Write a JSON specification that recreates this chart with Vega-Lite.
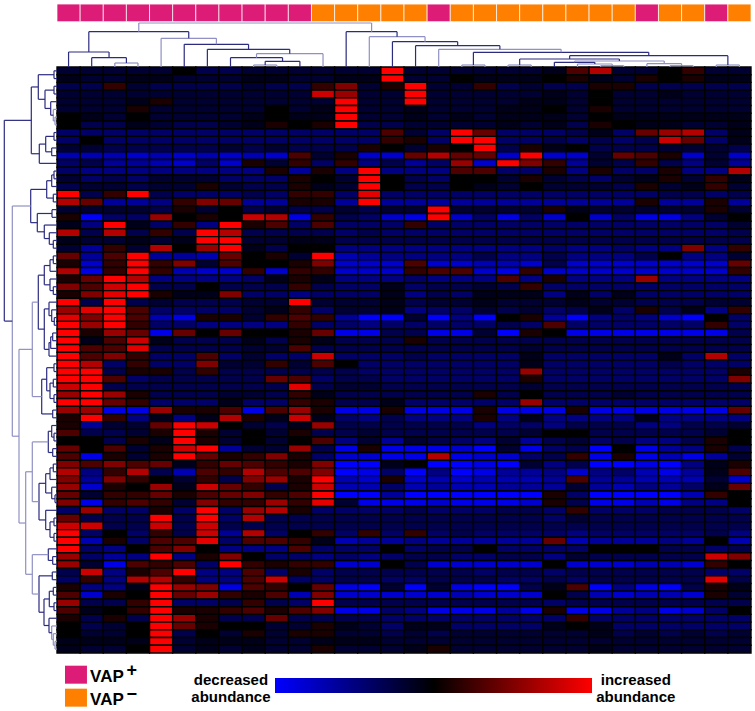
{"$schema":"https://vega.github.io/schema/vega-lite/v6.json","width":755,"height":711,"padding":0,"autosize":{"type":"none"},"background":"white","config":{"view":{"stroke":null}},
"datasets":{
"cells":[
{"r":1,"c":1,"v":-2},{"r":1,"c":2,"v":-2},{"r":1,"c":3,"v":-2},{"r":1,"c":4,"v":-2},{"r":1,"c":5,"v":-2},{"r":1,"c":6,"v":0},{"r":1,"c":7,"v":-3},{"r":1,"c":8,"v":-3},{"r":1,"c":9,"v":-2},{"r":1,"c":10,"v":-2},{"r":1,"c":11,"v":-2},{"r":1,"c":12,"v":-2},{"r":1,"c":13,"v":-2},{"r":1,"c":14,"v":-2},{"r":1,"c":15,"v":10},{"r":1,"c":16,"v":-2},{"r":1,"c":17,"v":-2},{"r":1,"c":18,"v":-2},{"r":1,"c":19,"v":-2},{"r":1,"c":20,"v":-2},{"r":1,"c":21,"v":-2},{"r":1,"c":22,"v":-1},{"r":1,"c":23,"v":3},{"r":1,"c":24,"v":7},{"r":1,"c":25,"v":-2},{"r":1,"c":26,"v":-2},{"r":1,"c":27,"v":0},{"r":1,"c":28,"v":2},{"r":1,"c":29,"v":-2},{"r":1,"c":30,"v":-2},
{"r":2,"c":1,"v":-1},{"r":2,"c":2,"v":-2},{"r":2,"c":3,"v":-2},{"r":2,"c":4,"v":-1},{"r":2,"c":5,"v":-1},{"r":2,"c":6,"v":-2},{"r":2,"c":7,"v":-2},{"r":2,"c":8,"v":-2},{"r":2,"c":9,"v":-1},{"r":2,"c":10,"v":-1},{"r":2,"c":11,"v":-2},{"r":2,"c":12,"v":-2},{"r":2,"c":13,"v":-1},{"r":2,"c":14,"v":-1},{"r":2,"c":15,"v":10},{"r":2,"c":16,"v":-2},{"r":2,"c":17,"v":-2},{"r":2,"c":18,"v":0},{"r":2,"c":19,"v":-1},{"r":2,"c":20,"v":-1},{"r":2,"c":21,"v":-1},{"r":2,"c":22,"v":0},{"r":2,"c":23,"v":1},{"r":2,"c":24,"v":-1},{"r":2,"c":25,"v":-2},{"r":2,"c":26,"v":1},{"r":2,"c":27,"v":0},{"r":2,"c":28,"v":1},{"r":2,"c":29,"v":-1},{"r":2,"c":30,"v":-1},
{"r":3,"c":1,"v":-3},{"r":3,"c":2,"v":-3},{"r":3,"c":3,"v":2},{"r":3,"c":4,"v":-2},{"r":3,"c":5,"v":-3},{"r":3,"c":6,"v":-3},{"r":3,"c":7,"v":-3},{"r":3,"c":8,"v":-3},{"r":3,"c":9,"v":-2},{"r":3,"c":10,"v":-3},{"r":3,"c":11,"v":-3},{"r":3,"c":12,"v":2},{"r":3,"c":13,"v":5},{"r":3,"c":14,"v":-2},{"r":3,"c":15,"v":1},{"r":3,"c":16,"v":10},{"r":3,"c":17,"v":-2},{"r":3,"c":18,"v":-2},{"r":3,"c":19,"v":2},{"r":3,"c":20,"v":-3},{"r":3,"c":21,"v":-2},{"r":3,"c":22,"v":-3},{"r":3,"c":23,"v":-3},{"r":3,"c":24,"v":1},{"r":3,"c":25,"v":1},{"r":3,"c":26,"v":-3},{"r":3,"c":27,"v":-3},{"r":3,"c":28,"v":-3},{"r":3,"c":29,"v":-3},{"r":3,"c":30,"v":-3},
{"r":4,"c":1,"v":-2},{"r":4,"c":2,"v":-2},{"r":4,"c":3,"v":-2},{"r":4,"c":4,"v":-2},{"r":4,"c":5,"v":-2},{"r":4,"c":6,"v":-2},{"r":4,"c":7,"v":-2},{"r":4,"c":8,"v":-2},{"r":4,"c":9,"v":-2},{"r":4,"c":10,"v":-2},{"r":4,"c":11,"v":-2},{"r":4,"c":12,"v":8},{"r":4,"c":13,"v":6},{"r":4,"c":14,"v":-2},{"r":4,"c":15,"v":-2},{"r":4,"c":16,"v":10},{"r":4,"c":17,"v":-2},{"r":4,"c":18,"v":-2},{"r":4,"c":19,"v":-2},{"r":4,"c":20,"v":-2},{"r":4,"c":21,"v":-2},{"r":4,"c":22,"v":-1},{"r":4,"c":23,"v":-2},{"r":4,"c":24,"v":0},{"r":4,"c":25,"v":-2},{"r":4,"c":26,"v":-2},{"r":4,"c":27,"v":-1},{"r":4,"c":28,"v":-2},{"r":4,"c":29,"v":-2},{"r":4,"c":30,"v":-2},
{"r":5,"c":1,"v":-2},{"r":5,"c":2,"v":-2},{"r":5,"c":3,"v":-2},{"r":5,"c":4,"v":-1},{"r":5,"c":5,"v":1},{"r":5,"c":6,"v":-2},{"r":5,"c":7,"v":-2},{"r":5,"c":8,"v":-2},{"r":5,"c":9,"v":-2},{"r":5,"c":10,"v":-2},{"r":5,"c":11,"v":-2},{"r":5,"c":12,"v":-2},{"r":5,"c":13,"v":10},{"r":5,"c":14,"v":-2},{"r":5,"c":15,"v":-2},{"r":5,"c":16,"v":10},{"r":5,"c":17,"v":-2},{"r":5,"c":18,"v":-2},{"r":5,"c":19,"v":-2},{"r":5,"c":20,"v":-2},{"r":5,"c":21,"v":-1},{"r":5,"c":22,"v":-1},{"r":5,"c":23,"v":-2},{"r":5,"c":24,"v":0},{"r":5,"c":25,"v":-2},{"r":5,"c":26,"v":-2},{"r":5,"c":27,"v":-2},{"r":5,"c":28,"v":-2},{"r":5,"c":29,"v":-2},{"r":5,"c":30,"v":-2},
{"r":6,"c":1,"v":-2},{"r":6,"c":2,"v":-2},{"r":6,"c":3,"v":-2},{"r":6,"c":4,"v":1},{"r":6,"c":5,"v":-2},{"r":6,"c":6,"v":-2},{"r":6,"c":7,"v":-2},{"r":6,"c":8,"v":-2},{"r":6,"c":9,"v":-2},{"r":6,"c":10,"v":0},{"r":6,"c":11,"v":-2},{"r":6,"c":12,"v":-1},{"r":6,"c":13,"v":10},{"r":6,"c":14,"v":-2},{"r":6,"c":15,"v":-2},{"r":6,"c":16,"v":-1},{"r":6,"c":17,"v":-2},{"r":6,"c":18,"v":-2},{"r":6,"c":19,"v":-2},{"r":6,"c":20,"v":-1},{"r":6,"c":21,"v":-1},{"r":6,"c":22,"v":0},{"r":6,"c":23,"v":-2},{"r":6,"c":24,"v":1},{"r":6,"c":25,"v":-2},{"r":6,"c":26,"v":-2},{"r":6,"c":27,"v":-2},{"r":6,"c":28,"v":-2},{"r":6,"c":29,"v":-2},{"r":6,"c":30,"v":-2},
{"r":7,"c":1,"v":0},{"r":7,"c":2,"v":-1},{"r":7,"c":3,"v":-2},{"r":7,"c":4,"v":0},{"r":7,"c":5,"v":-2},{"r":7,"c":6,"v":-2},{"r":7,"c":7,"v":-2},{"r":7,"c":8,"v":-2},{"r":7,"c":9,"v":-1},{"r":7,"c":10,"v":0},{"r":7,"c":11,"v":-1},{"r":7,"c":12,"v":-1},{"r":7,"c":13,"v":10},{"r":7,"c":14,"v":-2},{"r":7,"c":15,"v":-2},{"r":7,"c":16,"v":-1},{"r":7,"c":17,"v":-2},{"r":7,"c":18,"v":-1},{"r":7,"c":19,"v":-2},{"r":7,"c":20,"v":-1},{"r":7,"c":21,"v":-1},{"r":7,"c":22,"v":-1},{"r":7,"c":23,"v":-2},{"r":7,"c":24,"v":0},{"r":7,"c":25,"v":-1},{"r":7,"c":26,"v":-1},{"r":7,"c":27,"v":-1},{"r":7,"c":28,"v":-1},{"r":7,"c":29,"v":-1},{"r":7,"c":30,"v":-1},
{"r":8,"c":1,"v":0},{"r":8,"c":2,"v":-3},{"r":8,"c":3,"v":-3},{"r":8,"c":4,"v":-1},{"r":8,"c":5,"v":-2},{"r":8,"c":6,"v":-3},{"r":8,"c":7,"v":-3},{"r":8,"c":8,"v":-2},{"r":8,"c":9,"v":-1},{"r":8,"c":10,"v":1},{"r":8,"c":11,"v":0},{"r":8,"c":12,"v":1},{"r":8,"c":13,"v":10},{"r":8,"c":14,"v":-3},{"r":8,"c":15,"v":-3},{"r":8,"c":16,"v":-2},{"r":8,"c":17,"v":-2},{"r":8,"c":18,"v":-2},{"r":8,"c":19,"v":-2},{"r":8,"c":20,"v":-1},{"r":8,"c":21,"v":-2},{"r":8,"c":22,"v":-1},{"r":8,"c":23,"v":-3},{"r":8,"c":24,"v":1},{"r":8,"c":25,"v":0},{"r":8,"c":26,"v":-1},{"r":8,"c":27,"v":-1},{"r":8,"c":28,"v":-2},{"r":8,"c":29,"v":-2},{"r":8,"c":30,"v":-1},
{"r":9,"c":1,"v":-4},{"r":9,"c":2,"v":-4},{"r":9,"c":3,"v":-4},{"r":9,"c":4,"v":-4},{"r":9,"c":5,"v":-4},{"r":9,"c":6,"v":-4},{"r":9,"c":7,"v":-4},{"r":9,"c":8,"v":-4},{"r":9,"c":9,"v":-4},{"r":9,"c":10,"v":-4},{"r":9,"c":11,"v":-4},{"r":9,"c":12,"v":-4},{"r":9,"c":13,"v":-4},{"r":9,"c":14,"v":-4},{"r":9,"c":15,"v":3},{"r":9,"c":16,"v":-2},{"r":9,"c":17,"v":-4},{"r":9,"c":18,"v":10},{"r":9,"c":19,"v":4},{"r":9,"c":20,"v":-4},{"r":9,"c":21,"v":-4},{"r":9,"c":22,"v":-4},{"r":9,"c":23,"v":-3},{"r":9,"c":24,"v":-1},{"r":9,"c":25,"v":-4},{"r":9,"c":26,"v":4},{"r":9,"c":27,"v":6},{"r":9,"c":28,"v":7},{"r":9,"c":29,"v":-4},{"r":9,"c":30,"v":-1},
{"r":10,"c":1,"v":-4},{"r":10,"c":2,"v":0},{"r":10,"c":3,"v":-4},{"r":10,"c":4,"v":-4},{"r":10,"c":5,"v":-4},{"r":10,"c":6,"v":-4},{"r":10,"c":7,"v":-4},{"r":10,"c":8,"v":-4},{"r":10,"c":9,"v":-4},{"r":10,"c":10,"v":-4},{"r":10,"c":11,"v":-4},{"r":10,"c":12,"v":-4},{"r":10,"c":13,"v":-4},{"r":10,"c":14,"v":-4},{"r":10,"c":15,"v":2},{"r":10,"c":16,"v":1},{"r":10,"c":17,"v":-4},{"r":10,"c":18,"v":10},{"r":10,"c":19,"v":10},{"r":10,"c":20,"v":-4},{"r":10,"c":21,"v":-4},{"r":10,"c":22,"v":-3},{"r":10,"c":23,"v":-4},{"r":10,"c":24,"v":-3},{"r":10,"c":25,"v":-4},{"r":10,"c":26,"v":-3},{"r":10,"c":27,"v":8},{"r":10,"c":28,"v":4},{"r":10,"c":29,"v":-4},{"r":10,"c":30,"v":-1},
{"r":11,"c":1,"v":-2},{"r":11,"c":2,"v":-2},{"r":11,"c":3,"v":-3},{"r":11,"c":4,"v":-3},{"r":11,"c":5,"v":-3},{"r":11,"c":6,"v":-3},{"r":11,"c":7,"v":-3},{"r":11,"c":8,"v":-2},{"r":11,"c":9,"v":-3},{"r":11,"c":10,"v":-2},{"r":11,"c":11,"v":-3},{"r":11,"c":12,"v":-3},{"r":11,"c":13,"v":-3},{"r":11,"c":14,"v":1},{"r":11,"c":15,"v":0},{"r":11,"c":16,"v":-2},{"r":11,"c":17,"v":1},{"r":11,"c":18,"v":0},{"r":11,"c":19,"v":10},{"r":11,"c":20,"v":-3},{"r":11,"c":21,"v":1},{"r":11,"c":22,"v":-1},{"r":11,"c":23,"v":0},{"r":11,"c":24,"v":-3},{"r":11,"c":25,"v":-3},{"r":11,"c":26,"v":-3},{"r":11,"c":27,"v":-2},{"r":11,"c":28,"v":-2},{"r":11,"c":29,"v":-2},{"r":11,"c":30,"v":-3},
{"r":12,"c":1,"v":-7},{"r":12,"c":2,"v":-7},{"r":12,"c":3,"v":-7},{"r":12,"c":4,"v":-8},{"r":12,"c":5,"v":-7},{"r":12,"c":6,"v":-8},{"r":12,"c":7,"v":-7},{"r":12,"c":8,"v":-8},{"r":12,"c":9,"v":-7},{"r":12,"c":10,"v":-8},{"r":12,"c":11,"v":3},{"r":12,"c":12,"v":-2},{"r":12,"c":13,"v":1},{"r":12,"c":14,"v":-8},{"r":12,"c":15,"v":-8},{"r":12,"c":16,"v":4},{"r":12,"c":17,"v":7},{"r":12,"c":18,"v":4},{"r":12,"c":19,"v":4},{"r":12,"c":20,"v":-8},{"r":12,"c":21,"v":10},{"r":12,"c":22,"v":-8},{"r":12,"c":23,"v":-8},{"r":12,"c":24,"v":-2},{"r":12,"c":25,"v":4},{"r":12,"c":26,"v":3},{"r":12,"c":27,"v":1},{"r":12,"c":28,"v":-8},{"r":12,"c":29,"v":-2},{"r":12,"c":30,"v":-8},
{"r":13,"c":1,"v":-4},{"r":13,"c":2,"v":-3},{"r":13,"c":3,"v":-6},{"r":13,"c":4,"v":-6},{"r":13,"c":5,"v":-7},{"r":13,"c":6,"v":-8},{"r":13,"c":7,"v":-4},{"r":13,"c":8,"v":-8},{"r":13,"c":9,"v":1},{"r":13,"c":10,"v":-2},{"r":13,"c":11,"v":2},{"r":13,"c":12,"v":-4},{"r":13,"c":13,"v":2},{"r":13,"c":14,"v":-5},{"r":13,"c":15,"v":-3},{"r":13,"c":16,"v":-6},{"r":13,"c":17,"v":-4},{"r":13,"c":18,"v":6},{"r":13,"c":19,"v":-8},{"r":13,"c":20,"v":10},{"r":13,"c":21,"v":5},{"r":13,"c":22,"v":2},{"r":13,"c":23,"v":-6},{"r":13,"c":24,"v":-2},{"r":13,"c":25,"v":-3},{"r":13,"c":26,"v":2},{"r":13,"c":27,"v":-3},{"r":13,"c":28,"v":-5},{"r":13,"c":29,"v":-2},{"r":13,"c":30,"v":-6},
{"r":14,"c":1,"v":-4},{"r":14,"c":2,"v":-5},{"r":14,"c":3,"v":-5},{"r":14,"c":4,"v":-5},{"r":14,"c":5,"v":-5},{"r":14,"c":6,"v":-5},{"r":14,"c":7,"v":-5},{"r":14,"c":8,"v":-5},{"r":14,"c":9,"v":-5},{"r":14,"c":10,"v":1},{"r":14,"c":11,"v":-6},{"r":14,"c":12,"v":1},{"r":14,"c":13,"v":-5},{"r":14,"c":14,"v":10},{"r":14,"c":15,"v":-5},{"r":14,"c":16,"v":-5},{"r":14,"c":17,"v":-5},{"r":14,"c":18,"v":3},{"r":14,"c":19,"v":3},{"r":14,"c":20,"v":-4},{"r":14,"c":21,"v":-4},{"r":14,"c":22,"v":1},{"r":14,"c":23,"v":-5},{"r":14,"c":24,"v":1},{"r":14,"c":25,"v":-4},{"r":14,"c":26,"v":-4},{"r":14,"c":27,"v":1},{"r":14,"c":28,"v":-5},{"r":14,"c":29,"v":-5},{"r":14,"c":30,"v":7},
{"r":15,"c":1,"v":-2},{"r":15,"c":2,"v":-4},{"r":15,"c":3,"v":-3},{"r":15,"c":4,"v":-4},{"r":15,"c":5,"v":-2},{"r":15,"c":6,"v":-2},{"r":15,"c":7,"v":-2},{"r":15,"c":8,"v":-4},{"r":15,"c":9,"v":-4},{"r":15,"c":10,"v":-4},{"r":15,"c":11,"v":1},{"r":15,"c":12,"v":0},{"r":15,"c":13,"v":-2},{"r":15,"c":14,"v":10},{"r":15,"c":15,"v":0},{"r":15,"c":16,"v":-3},{"r":15,"c":17,"v":-4},{"r":15,"c":18,"v":0},{"r":15,"c":19,"v":0},{"r":15,"c":20,"v":-2},{"r":15,"c":21,"v":1},{"r":15,"c":22,"v":-2},{"r":15,"c":23,"v":-3},{"r":15,"c":24,"v":-4},{"r":15,"c":25,"v":-2},{"r":15,"c":26,"v":-1},{"r":15,"c":27,"v":1},{"r":15,"c":28,"v":-2},{"r":15,"c":29,"v":2},{"r":15,"c":30,"v":-1},
{"r":16,"c":1,"v":-3},{"r":16,"c":2,"v":-2},{"r":16,"c":3,"v":-2},{"r":16,"c":4,"v":-3},{"r":16,"c":5,"v":-2},{"r":16,"c":6,"v":-2},{"r":16,"c":7,"v":1},{"r":16,"c":8,"v":-2},{"r":16,"c":9,"v":-3},{"r":16,"c":10,"v":-3},{"r":16,"c":11,"v":1},{"r":16,"c":12,"v":-1},{"r":16,"c":13,"v":-2},{"r":16,"c":14,"v":10},{"r":16,"c":15,"v":0},{"r":16,"c":16,"v":-3},{"r":16,"c":17,"v":-3},{"r":16,"c":18,"v":0},{"r":16,"c":19,"v":-1},{"r":16,"c":20,"v":-2},{"r":16,"c":21,"v":0},{"r":16,"c":22,"v":-2},{"r":16,"c":23,"v":-2},{"r":16,"c":24,"v":-2},{"r":16,"c":25,"v":-3},{"r":16,"c":26,"v":1},{"r":16,"c":27,"v":-2},{"r":16,"c":28,"v":-1},{"r":16,"c":29,"v":2},{"r":16,"c":30,"v":-2},
{"r":17,"c":1,"v":10},{"r":17,"c":2,"v":-3},{"r":17,"c":3,"v":2},{"r":17,"c":4,"v":10},{"r":17,"c":5,"v":-3},{"r":17,"c":6,"v":-4},{"r":17,"c":7,"v":-4},{"r":17,"c":8,"v":-4},{"r":17,"c":9,"v":-3},{"r":17,"c":10,"v":-4},{"r":17,"c":11,"v":2},{"r":17,"c":12,"v":2},{"r":17,"c":13,"v":-4},{"r":17,"c":14,"v":9},{"r":17,"c":15,"v":-4},{"r":17,"c":16,"v":-4},{"r":17,"c":17,"v":-4},{"r":17,"c":18,"v":-4},{"r":17,"c":19,"v":-4},{"r":17,"c":20,"v":-4},{"r":17,"c":21,"v":-4},{"r":17,"c":22,"v":-4},{"r":17,"c":23,"v":-4},{"r":17,"c":24,"v":-4},{"r":17,"c":25,"v":-4},{"r":17,"c":26,"v":-4},{"r":17,"c":27,"v":-3},{"r":17,"c":28,"v":-3},{"r":17,"c":29,"v":-4},{"r":17,"c":30,"v":-3},
{"r":18,"c":1,"v":7},{"r":18,"c":2,"v":4},{"r":18,"c":3,"v":-6},{"r":18,"c":4,"v":-6},{"r":18,"c":5,"v":-5},{"r":18,"c":6,"v":2},{"r":18,"c":7,"v":5},{"r":18,"c":8,"v":4},{"r":18,"c":9,"v":-6},{"r":18,"c":10,"v":-6},{"r":18,"c":11,"v":1},{"r":18,"c":12,"v":1},{"r":18,"c":13,"v":-6},{"r":18,"c":14,"v":10},{"r":18,"c":15,"v":-6},{"r":18,"c":16,"v":-6},{"r":18,"c":17,"v":-6},{"r":18,"c":18,"v":-6},{"r":18,"c":19,"v":-6},{"r":18,"c":20,"v":-6},{"r":18,"c":21,"v":-6},{"r":18,"c":22,"v":-6},{"r":18,"c":23,"v":-6},{"r":18,"c":24,"v":-6},{"r":18,"c":25,"v":-6},{"r":18,"c":26,"v":1},{"r":18,"c":27,"v":-6},{"r":18,"c":28,"v":-6},{"r":18,"c":29,"v":1},{"r":18,"c":30,"v":-6},
{"r":19,"c":1,"v":-2},{"r":19,"c":2,"v":-2},{"r":19,"c":3,"v":-2},{"r":19,"c":4,"v":-2},{"r":19,"c":5,"v":-3},{"r":19,"c":6,"v":1},{"r":19,"c":7,"v":-2},{"r":19,"c":8,"v":0},{"r":19,"c":9,"v":-3},{"r":19,"c":10,"v":-2},{"r":19,"c":11,"v":-3},{"r":19,"c":12,"v":-3},{"r":19,"c":13,"v":-2},{"r":19,"c":14,"v":-3},{"r":19,"c":15,"v":-2},{"r":19,"c":16,"v":-2},{"r":19,"c":17,"v":10},{"r":19,"c":18,"v":-2},{"r":19,"c":19,"v":-2},{"r":19,"c":20,"v":-2},{"r":19,"c":21,"v":-2},{"r":19,"c":22,"v":1},{"r":19,"c":23,"v":-1},{"r":19,"c":24,"v":-2},{"r":19,"c":25,"v":-2},{"r":19,"c":26,"v":-2},{"r":19,"c":27,"v":-2},{"r":19,"c":28,"v":-2},{"r":19,"c":29,"v":1},{"r":19,"c":30,"v":-2},
{"r":20,"c":1,"v":1},{"r":20,"c":2,"v":-10},{"r":20,"c":3,"v":-4},{"r":20,"c":4,"v":-4},{"r":20,"c":5,"v":6},{"r":20,"c":6,"v":0},{"r":20,"c":7,"v":1},{"r":20,"c":8,"v":0},{"r":20,"c":9,"v":8},{"r":20,"c":10,"v":7},{"r":20,"c":11,"v":-9},{"r":20,"c":12,"v":2},{"r":20,"c":13,"v":-3},{"r":20,"c":14,"v":-4},{"r":20,"c":15,"v":-8},{"r":20,"c":16,"v":-9},{"r":20,"c":17,"v":10},{"r":20,"c":18,"v":-8},{"r":20,"c":19,"v":-4},{"r":20,"c":20,"v":-9},{"r":20,"c":21,"v":-4},{"r":20,"c":22,"v":-8},{"r":20,"c":23,"v":0},{"r":20,"c":24,"v":-8},{"r":20,"c":25,"v":-4},{"r":20,"c":26,"v":-9},{"r":20,"c":27,"v":-9},{"r":20,"c":28,"v":-5},{"r":20,"c":29,"v":-2},{"r":20,"c":30,"v":0},
{"r":21,"c":1,"v":-1},{"r":21,"c":2,"v":-5},{"r":21,"c":3,"v":10},{"r":21,"c":4,"v":-1},{"r":21,"c":5,"v":-4},{"r":21,"c":6,"v":2},{"r":21,"c":7,"v":-5},{"r":21,"c":8,"v":10},{"r":21,"c":9,"v":1},{"r":21,"c":10,"v":3},{"r":21,"c":11,"v":-4},{"r":21,"c":12,"v":3},{"r":21,"c":13,"v":-4},{"r":21,"c":14,"v":-4},{"r":21,"c":15,"v":-4},{"r":21,"c":16,"v":2},{"r":21,"c":17,"v":-4},{"r":21,"c":18,"v":-4},{"r":21,"c":19,"v":-4},{"r":21,"c":20,"v":-4},{"r":21,"c":21,"v":-4},{"r":21,"c":22,"v":-4},{"r":21,"c":23,"v":-4},{"r":21,"c":24,"v":-4},{"r":21,"c":25,"v":-4},{"r":21,"c":26,"v":-4},{"r":21,"c":27,"v":-4},{"r":21,"c":28,"v":-4},{"r":21,"c":29,"v":-4},{"r":21,"c":30,"v":-2},
{"r":22,"c":1,"v":7},{"r":22,"c":2,"v":-3},{"r":22,"c":3,"v":7},{"r":22,"c":4,"v":-3},{"r":22,"c":5,"v":2},{"r":22,"c":6,"v":-3},{"r":22,"c":7,"v":10},{"r":22,"c":8,"v":7},{"r":22,"c":9,"v":-3},{"r":22,"c":10,"v":-3},{"r":22,"c":11,"v":-3},{"r":22,"c":12,"v":-3},{"r":22,"c":13,"v":-4},{"r":22,"c":14,"v":-3},{"r":22,"c":15,"v":-4},{"r":22,"c":16,"v":-4},{"r":22,"c":17,"v":-4},{"r":22,"c":18,"v":-4},{"r":22,"c":19,"v":-4},{"r":22,"c":20,"v":-4},{"r":22,"c":21,"v":-4},{"r":22,"c":22,"v":-4},{"r":22,"c":23,"v":-4},{"r":22,"c":24,"v":-4},{"r":22,"c":25,"v":-4},{"r":22,"c":26,"v":-4},{"r":22,"c":27,"v":-4},{"r":22,"c":28,"v":-4},{"r":22,"c":29,"v":-4},{"r":22,"c":30,"v":-3},
{"r":23,"c":1,"v":-1},{"r":23,"c":2,"v":-2},{"r":23,"c":3,"v":-2},{"r":23,"c":4,"v":-1},{"r":23,"c":5,"v":-2},{"r":23,"c":6,"v":-1},{"r":23,"c":7,"v":10},{"r":23,"c":8,"v":10},{"r":23,"c":9,"v":-2},{"r":23,"c":10,"v":-2},{"r":23,"c":11,"v":-1},{"r":23,"c":12,"v":-1},{"r":23,"c":13,"v":-3},{"r":23,"c":14,"v":-3},{"r":23,"c":15,"v":-3},{"r":23,"c":16,"v":-3},{"r":23,"c":17,"v":-3},{"r":23,"c":18,"v":-3},{"r":23,"c":19,"v":-3},{"r":23,"c":20,"v":-3},{"r":23,"c":21,"v":-3},{"r":23,"c":22,"v":-3},{"r":23,"c":23,"v":-3},{"r":23,"c":24,"v":-3},{"r":23,"c":25,"v":-3},{"r":23,"c":26,"v":-3},{"r":23,"c":27,"v":-3},{"r":23,"c":28,"v":-3},{"r":23,"c":29,"v":-3},{"r":23,"c":30,"v":-3},
{"r":24,"c":1,"v":-2},{"r":24,"c":2,"v":-6},{"r":24,"c":3,"v":2},{"r":24,"c":4,"v":-2},{"r":24,"c":5,"v":7},{"r":24,"c":6,"v":0},{"r":24,"c":7,"v":6},{"r":24,"c":8,"v":10},{"r":24,"c":9,"v":-1},{"r":24,"c":10,"v":-3},{"r":24,"c":11,"v":0},{"r":24,"c":12,"v":0},{"r":24,"c":13,"v":-5},{"r":24,"c":14,"v":-5},{"r":24,"c":15,"v":-5},{"r":24,"c":16,"v":-5},{"r":24,"c":17,"v":-5},{"r":24,"c":18,"v":-5},{"r":24,"c":19,"v":-5},{"r":24,"c":20,"v":-5},{"r":24,"c":21,"v":-5},{"r":24,"c":22,"v":-4},{"r":24,"c":23,"v":-5},{"r":24,"c":24,"v":-5},{"r":24,"c":25,"v":-4},{"r":24,"c":26,"v":-5},{"r":24,"c":27,"v":-5},{"r":24,"c":28,"v":5},{"r":24,"c":29,"v":-5},{"r":24,"c":30,"v":2},
{"r":25,"c":1,"v":4},{"r":25,"c":2,"v":-6},{"r":25,"c":3,"v":3},{"r":25,"c":4,"v":10},{"r":25,"c":5,"v":-6},{"r":25,"c":6,"v":-6},{"r":25,"c":7,"v":-7},{"r":25,"c":8,"v":4},{"r":25,"c":9,"v":0},{"r":25,"c":10,"v":1},{"r":25,"c":11,"v":-2},{"r":25,"c":12,"v":10},{"r":25,"c":13,"v":-7},{"r":25,"c":14,"v":-6},{"r":25,"c":15,"v":-5},{"r":25,"c":16,"v":-5},{"r":25,"c":17,"v":-5},{"r":25,"c":18,"v":-5},{"r":25,"c":19,"v":-3},{"r":25,"c":20,"v":-5},{"r":25,"c":21,"v":-5},{"r":25,"c":22,"v":-3},{"r":25,"c":23,"v":-5},{"r":25,"c":24,"v":-5},{"r":25,"c":25,"v":-5},{"r":25,"c":26,"v":-3},{"r":25,"c":27,"v":0},{"r":25,"c":28,"v":-5},{"r":25,"c":29,"v":-5},{"r":25,"c":30,"v":-2},
{"r":26,"c":1,"v":1},{"r":26,"c":2,"v":-8},{"r":26,"c":3,"v":2},{"r":26,"c":4,"v":10},{"r":26,"c":5,"v":2},{"r":26,"c":6,"v":5},{"r":26,"c":7,"v":-2},{"r":26,"c":8,"v":3},{"r":26,"c":9,"v":0},{"r":26,"c":10,"v":0},{"r":26,"c":11,"v":1},{"r":26,"c":12,"v":5},{"r":26,"c":13,"v":-8},{"r":26,"c":14,"v":-8},{"r":26,"c":15,"v":-8},{"r":26,"c":16,"v":3},{"r":26,"c":17,"v":-8},{"r":26,"c":18,"v":-8},{"r":26,"c":19,"v":-7},{"r":26,"c":20,"v":-7},{"r":26,"c":21,"v":-8},{"r":26,"c":22,"v":-3},{"r":26,"c":23,"v":-8},{"r":26,"c":24,"v":-8},{"r":26,"c":25,"v":-8},{"r":26,"c":26,"v":-8},{"r":26,"c":27,"v":-8},{"r":26,"c":28,"v":-8},{"r":26,"c":29,"v":-8},{"r":26,"c":30,"v":4},
{"r":27,"c":1,"v":7},{"r":27,"c":2,"v":-9},{"r":27,"c":3,"v":2},{"r":27,"c":4,"v":10},{"r":27,"c":5,"v":2},{"r":27,"c":6,"v":-7},{"r":27,"c":7,"v":-8},{"r":27,"c":8,"v":-8},{"r":27,"c":9,"v":2},{"r":27,"c":10,"v":-8},{"r":27,"c":11,"v":2},{"r":27,"c":12,"v":2},{"r":27,"c":13,"v":-8},{"r":27,"c":14,"v":-8},{"r":27,"c":15,"v":-8},{"r":27,"c":16,"v":2},{"r":27,"c":17,"v":3},{"r":27,"c":18,"v":3},{"r":27,"c":19,"v":-8},{"r":27,"c":20,"v":-9},{"r":27,"c":21,"v":2},{"r":27,"c":22,"v":-8},{"r":27,"c":23,"v":-8},{"r":27,"c":24,"v":-8},{"r":27,"c":25,"v":-8},{"r":27,"c":26,"v":-8},{"r":27,"c":27,"v":-8},{"r":27,"c":28,"v":-8},{"r":27,"c":29,"v":-8},{"r":27,"c":30,"v":2},
{"r":28,"c":1,"v":1},{"r":28,"c":2,"v":4},{"r":28,"c":3,"v":10},{"r":28,"c":4,"v":7},{"r":28,"c":5,"v":-5},{"r":28,"c":6,"v":-5},{"r":28,"c":7,"v":-5},{"r":28,"c":8,"v":-5},{"r":28,"c":9,"v":-4},{"r":28,"c":10,"v":-1},{"r":28,"c":11,"v":1},{"r":28,"c":12,"v":-1},{"r":28,"c":13,"v":-5},{"r":28,"c":14,"v":-5},{"r":28,"c":15,"v":-5},{"r":28,"c":16,"v":-4},{"r":28,"c":17,"v":-5},{"r":28,"c":18,"v":-5},{"r":28,"c":19,"v":-5},{"r":28,"c":20,"v":3},{"r":28,"c":21,"v":-5},{"r":28,"c":22,"v":1},{"r":28,"c":23,"v":-5},{"r":28,"c":24,"v":-5},{"r":28,"c":25,"v":-5},{"r":28,"c":26,"v":6},{"r":28,"c":27,"v":-5},{"r":28,"c":28,"v":-5},{"r":28,"c":29,"v":-5},{"r":28,"c":30,"v":-5},
{"r":29,"c":1,"v":5},{"r":29,"c":2,"v":3},{"r":29,"c":3,"v":8},{"r":29,"c":4,"v":10},{"r":29,"c":5,"v":-3},{"r":29,"c":6,"v":-3},{"r":29,"c":7,"v":0},{"r":29,"c":8,"v":-3},{"r":29,"c":9,"v":-3},{"r":29,"c":10,"v":-3},{"r":29,"c":11,"v":2},{"r":29,"c":12,"v":-3},{"r":29,"c":13,"v":-4},{"r":29,"c":14,"v":-4},{"r":29,"c":15,"v":-1},{"r":29,"c":16,"v":-4},{"r":29,"c":17,"v":-3},{"r":29,"c":18,"v":-3},{"r":29,"c":19,"v":-2},{"r":29,"c":20,"v":-3},{"r":29,"c":21,"v":2},{"r":29,"c":22,"v":-4},{"r":29,"c":23,"v":-4},{"r":29,"c":24,"v":-4},{"r":29,"c":25,"v":-4},{"r":29,"c":26,"v":-4},{"r":29,"c":27,"v":-4},{"r":29,"c":28,"v":-4},{"r":29,"c":29,"v":-4},{"r":29,"c":30,"v":-4},
{"r":30,"c":1,"v":1},{"r":30,"c":2,"v":5},{"r":30,"c":3,"v":9},{"r":30,"c":4,"v":10},{"r":30,"c":5,"v":1},{"r":30,"c":6,"v":-1},{"r":30,"c":7,"v":-1},{"r":30,"c":8,"v":5},{"r":30,"c":9,"v":-4},{"r":30,"c":10,"v":-4},{"r":30,"c":11,"v":-5},{"r":30,"c":12,"v":-4},{"r":30,"c":13,"v":-4},{"r":30,"c":14,"v":-4},{"r":30,"c":15,"v":-1},{"r":30,"c":16,"v":-5},{"r":30,"c":17,"v":-3},{"r":30,"c":18,"v":-4},{"r":30,"c":19,"v":-1},{"r":30,"c":20,"v":-1},{"r":30,"c":21,"v":-1},{"r":30,"c":22,"v":-5},{"r":30,"c":23,"v":-1},{"r":30,"c":24,"v":-4},{"r":30,"c":25,"v":-1},{"r":30,"c":26,"v":-4},{"r":30,"c":27,"v":-4},{"r":30,"c":28,"v":-4},{"r":30,"c":29,"v":-4},{"r":30,"c":30,"v":-4},
{"r":31,"c":1,"v":10},{"r":31,"c":2,"v":-3},{"r":31,"c":3,"v":10},{"r":31,"c":4,"v":-3},{"r":31,"c":5,"v":-2},{"r":31,"c":6,"v":-3},{"r":31,"c":7,"v":-3},{"r":31,"c":8,"v":-3},{"r":31,"c":9,"v":-2},{"r":31,"c":10,"v":-2},{"r":31,"c":11,"v":10},{"r":31,"c":12,"v":-2},{"r":31,"c":13,"v":-2},{"r":31,"c":14,"v":-2},{"r":31,"c":15,"v":-1},{"r":31,"c":16,"v":-3},{"r":31,"c":17,"v":-2},{"r":31,"c":18,"v":-2},{"r":31,"c":19,"v":-1},{"r":31,"c":20,"v":-2},{"r":31,"c":21,"v":-2},{"r":31,"c":22,"v":-2},{"r":31,"c":23,"v":-1},{"r":31,"c":24,"v":-2},{"r":31,"c":25,"v":-2},{"r":31,"c":26,"v":-3},{"r":31,"c":27,"v":-3},{"r":31,"c":28,"v":-3},{"r":31,"c":29,"v":-2},{"r":31,"c":30,"v":-2},
{"r":32,"c":1,"v":6},{"r":32,"c":2,"v":9},{"r":32,"c":3,"v":10},{"r":32,"c":4,"v":3},{"r":32,"c":5,"v":-4},{"r":32,"c":6,"v":-4},{"r":32,"c":7,"v":-4},{"r":32,"c":8,"v":-4},{"r":32,"c":9,"v":-2},{"r":32,"c":10,"v":-1},{"r":32,"c":11,"v":2},{"r":32,"c":12,"v":-4},{"r":32,"c":13,"v":-2},{"r":32,"c":14,"v":-2},{"r":32,"c":15,"v":-1},{"r":32,"c":16,"v":-5},{"r":32,"c":17,"v":-4},{"r":32,"c":18,"v":-4},{"r":32,"c":19,"v":-2},{"r":32,"c":20,"v":-3},{"r":32,"c":21,"v":-2},{"r":32,"c":22,"v":-4},{"r":32,"c":23,"v":-3},{"r":32,"c":24,"v":-1},{"r":32,"c":25,"v":-4},{"r":32,"c":26,"v":1},{"r":32,"c":27,"v":-3},{"r":32,"c":28,"v":-1},{"r":32,"c":29,"v":-5},{"r":32,"c":30,"v":2},
{"r":33,"c":1,"v":9},{"r":33,"c":2,"v":5},{"r":33,"c":3,"v":10},{"r":33,"c":4,"v":3},{"r":33,"c":5,"v":-7},{"r":33,"c":6,"v":-9},{"r":33,"c":7,"v":1},{"r":33,"c":8,"v":1},{"r":33,"c":9,"v":-2},{"r":33,"c":10,"v":2},{"r":33,"c":11,"v":3},{"r":33,"c":12,"v":2},{"r":33,"c":13,"v":-6},{"r":33,"c":14,"v":-10},{"r":33,"c":15,"v":-10},{"r":33,"c":16,"v":-2},{"r":33,"c":17,"v":-10},{"r":33,"c":18,"v":-5},{"r":33,"c":19,"v":-10},{"r":33,"c":20,"v":0},{"r":33,"c":21,"v":1},{"r":33,"c":22,"v":-6},{"r":33,"c":23,"v":-10},{"r":33,"c":24,"v":-5},{"r":33,"c":25,"v":-4},{"r":33,"c":26,"v":-5},{"r":33,"c":27,"v":-8},{"r":33,"c":28,"v":-10},{"r":33,"c":29,"v":0},{"r":33,"c":30,"v":-4},
{"r":34,"c":1,"v":10},{"r":34,"c":2,"v":6},{"r":34,"c":3,"v":10},{"r":34,"c":4,"v":2},{"r":34,"c":5,"v":-4},{"r":34,"c":6,"v":-4},{"r":34,"c":7,"v":-5},{"r":34,"c":8,"v":-5},{"r":34,"c":9,"v":-5},{"r":34,"c":10,"v":-5},{"r":34,"c":11,"v":2},{"r":34,"c":12,"v":-4},{"r":34,"c":13,"v":-4},{"r":34,"c":14,"v":-5},{"r":34,"c":15,"v":-4},{"r":34,"c":16,"v":-4},{"r":34,"c":17,"v":-4},{"r":34,"c":18,"v":-4},{"r":34,"c":19,"v":-4},{"r":34,"c":20,"v":-3},{"r":34,"c":21,"v":-4},{"r":34,"c":22,"v":3},{"r":34,"c":23,"v":-4},{"r":34,"c":24,"v":-4},{"r":34,"c":25,"v":-4},{"r":34,"c":26,"v":-4},{"r":34,"c":27,"v":-4},{"r":34,"c":28,"v":-4},{"r":34,"c":29,"v":2},{"r":34,"c":30,"v":-4},
{"r":35,"c":1,"v":10},{"r":35,"c":2,"v":1},{"r":35,"c":3,"v":6},{"r":35,"c":4,"v":4},{"r":35,"c":5,"v":-9},{"r":35,"c":6,"v":4},{"r":35,"c":7,"v":0},{"r":35,"c":8,"v":4},{"r":35,"c":9,"v":0},{"r":35,"c":10,"v":0},{"r":35,"c":11,"v":1},{"r":35,"c":12,"v":4},{"r":35,"c":13,"v":-9},{"r":35,"c":14,"v":-9},{"r":35,"c":15,"v":-3},{"r":35,"c":16,"v":-3},{"r":35,"c":17,"v":-9},{"r":35,"c":18,"v":-9},{"r":35,"c":19,"v":-2},{"r":35,"c":20,"v":-10},{"r":35,"c":21,"v":1},{"r":35,"c":22,"v":0},{"r":35,"c":23,"v":-9},{"r":35,"c":24,"v":-9},{"r":35,"c":25,"v":-9},{"r":35,"c":26,"v":-9},{"r":35,"c":27,"v":-9},{"r":35,"c":28,"v":-9},{"r":35,"c":29,"v":-9},{"r":35,"c":30,"v":-3},
{"r":36,"c":1,"v":10},{"r":36,"c":2,"v":-1},{"r":36,"c":3,"v":3},{"r":36,"c":4,"v":8},{"r":36,"c":5,"v":-1},{"r":36,"c":6,"v":-3},{"r":36,"c":7,"v":-3},{"r":36,"c":8,"v":-3},{"r":36,"c":9,"v":-1},{"r":36,"c":10,"v":-3},{"r":36,"c":11,"v":1},{"r":36,"c":12,"v":-1},{"r":36,"c":13,"v":-3},{"r":36,"c":14,"v":-3},{"r":36,"c":15,"v":-3},{"r":36,"c":16,"v":1},{"r":36,"c":17,"v":-3},{"r":36,"c":18,"v":-3},{"r":36,"c":19,"v":-3},{"r":36,"c":20,"v":-3},{"r":36,"c":21,"v":-3},{"r":36,"c":22,"v":-3},{"r":36,"c":23,"v":-3},{"r":36,"c":24,"v":-3},{"r":36,"c":25,"v":-3},{"r":36,"c":26,"v":-3},{"r":36,"c":27,"v":-3},{"r":36,"c":28,"v":-3},{"r":36,"c":29,"v":-3},{"r":36,"c":30,"v":-3},
{"r":37,"c":1,"v":10},{"r":37,"c":2,"v":3},{"r":37,"c":3,"v":3},{"r":37,"c":4,"v":9},{"r":37,"c":5,"v":-3},{"r":37,"c":6,"v":-3},{"r":37,"c":7,"v":-3},{"r":37,"c":8,"v":-3},{"r":37,"c":9,"v":-2},{"r":37,"c":10,"v":-2},{"r":37,"c":11,"v":3},{"r":37,"c":12,"v":-3},{"r":37,"c":13,"v":-3},{"r":37,"c":14,"v":-3},{"r":37,"c":15,"v":-3},{"r":37,"c":16,"v":-3},{"r":37,"c":17,"v":-3},{"r":37,"c":18,"v":-3},{"r":37,"c":19,"v":-3},{"r":37,"c":20,"v":-3},{"r":37,"c":21,"v":-2},{"r":37,"c":22,"v":-3},{"r":37,"c":23,"v":-3},{"r":37,"c":24,"v":-3},{"r":37,"c":25,"v":-3},{"r":37,"c":26,"v":-3},{"r":37,"c":27,"v":-3},{"r":37,"c":28,"v":-3},{"r":37,"c":29,"v":-3},{"r":37,"c":30,"v":-3},
{"r":38,"c":1,"v":10},{"r":38,"c":2,"v":3},{"r":38,"c":3,"v":5},{"r":38,"c":4,"v":2},{"r":38,"c":5,"v":-4},{"r":38,"c":6,"v":-4},{"r":38,"c":7,"v":3},{"r":38,"c":8,"v":-4},{"r":38,"c":9,"v":-2},{"r":38,"c":10,"v":-4},{"r":38,"c":11,"v":-4},{"r":38,"c":12,"v":8},{"r":38,"c":13,"v":-4},{"r":38,"c":14,"v":-4},{"r":38,"c":15,"v":-4},{"r":38,"c":16,"v":-3},{"r":38,"c":17,"v":-4},{"r":38,"c":18,"v":-4},{"r":38,"c":19,"v":-4},{"r":38,"c":20,"v":-4},{"r":38,"c":21,"v":-1},{"r":38,"c":22,"v":-4},{"r":38,"c":23,"v":-4},{"r":38,"c":24,"v":-4},{"r":38,"c":25,"v":-4},{"r":38,"c":26,"v":-4},{"r":38,"c":27,"v":-1},{"r":38,"c":28,"v":-4},{"r":38,"c":29,"v":7},{"r":38,"c":30,"v":-4},
{"r":39,"c":1,"v":10},{"r":39,"c":2,"v":7},{"r":39,"c":3,"v":-4},{"r":39,"c":4,"v":2},{"r":39,"c":5,"v":-4},{"r":39,"c":6,"v":-4},{"r":39,"c":7,"v":5},{"r":39,"c":8,"v":-2},{"r":39,"c":9,"v":-2},{"r":39,"c":10,"v":2},{"r":39,"c":11,"v":-2},{"r":39,"c":12,"v":3},{"r":39,"c":13,"v":0},{"r":39,"c":14,"v":-4},{"r":39,"c":15,"v":-4},{"r":39,"c":16,"v":-4},{"r":39,"c":17,"v":-4},{"r":39,"c":18,"v":-4},{"r":39,"c":19,"v":-4},{"r":39,"c":20,"v":-4},{"r":39,"c":21,"v":-1},{"r":39,"c":22,"v":-4},{"r":39,"c":23,"v":-4},{"r":39,"c":24,"v":-4},{"r":39,"c":25,"v":-4},{"r":39,"c":26,"v":-4},{"r":39,"c":27,"v":-3},{"r":39,"c":28,"v":-4},{"r":39,"c":29,"v":-4},{"r":39,"c":30,"v":-4},
{"r":40,"c":1,"v":10},{"r":40,"c":2,"v":10},{"r":40,"c":3,"v":-3},{"r":40,"c":4,"v":1},{"r":40,"c":5,"v":1},{"r":40,"c":6,"v":-3},{"r":40,"c":7,"v":2},{"r":40,"c":8,"v":-3},{"r":40,"c":9,"v":-3},{"r":40,"c":10,"v":-3},{"r":40,"c":11,"v":-3},{"r":40,"c":12,"v":-3},{"r":40,"c":13,"v":-3},{"r":40,"c":14,"v":-4},{"r":40,"c":15,"v":-4},{"r":40,"c":16,"v":-4},{"r":40,"c":17,"v":-4},{"r":40,"c":18,"v":-4},{"r":40,"c":19,"v":-4},{"r":40,"c":20,"v":-4},{"r":40,"c":21,"v":6},{"r":40,"c":22,"v":-4},{"r":40,"c":23,"v":-4},{"r":40,"c":24,"v":-4},{"r":40,"c":25,"v":-4},{"r":40,"c":26,"v":-4},{"r":40,"c":27,"v":-4},{"r":40,"c":28,"v":-4},{"r":40,"c":29,"v":-4},{"r":40,"c":30,"v":1},
{"r":41,"c":1,"v":10},{"r":41,"c":2,"v":10},{"r":41,"c":3,"v":3},{"r":41,"c":4,"v":-4},{"r":41,"c":5,"v":-3},{"r":41,"c":6,"v":-3},{"r":41,"c":7,"v":-3},{"r":41,"c":8,"v":-3},{"r":41,"c":9,"v":-3},{"r":41,"c":10,"v":4},{"r":41,"c":11,"v":3},{"r":41,"c":12,"v":-4},{"r":41,"c":13,"v":-3},{"r":41,"c":14,"v":-3},{"r":41,"c":15,"v":-4},{"r":41,"c":16,"v":-4},{"r":41,"c":17,"v":-4},{"r":41,"c":18,"v":-4},{"r":41,"c":19,"v":-4},{"r":41,"c":20,"v":-4},{"r":41,"c":21,"v":1},{"r":41,"c":22,"v":-4},{"r":41,"c":23,"v":-4},{"r":41,"c":24,"v":-4},{"r":41,"c":25,"v":-4},{"r":41,"c":26,"v":-4},{"r":41,"c":27,"v":-4},{"r":41,"c":28,"v":-4},{"r":41,"c":29,"v":-4},{"r":41,"c":30,"v":5},
{"r":42,"c":1,"v":8},{"r":42,"c":2,"v":10},{"r":42,"c":3,"v":-3},{"r":42,"c":4,"v":-3},{"r":42,"c":5,"v":-3},{"r":42,"c":6,"v":-3},{"r":42,"c":7,"v":-3},{"r":42,"c":8,"v":-3},{"r":42,"c":9,"v":-3},{"r":42,"c":10,"v":-3},{"r":42,"c":11,"v":9},{"r":42,"c":12,"v":-3},{"r":42,"c":13,"v":-2},{"r":42,"c":14,"v":-2},{"r":42,"c":15,"v":-3},{"r":42,"c":16,"v":-3},{"r":42,"c":17,"v":-3},{"r":42,"c":18,"v":-3},{"r":42,"c":19,"v":-3},{"r":42,"c":20,"v":-3},{"r":42,"c":21,"v":-2},{"r":42,"c":22,"v":-3},{"r":42,"c":23,"v":-3},{"r":42,"c":24,"v":-3},{"r":42,"c":25,"v":-3},{"r":42,"c":26,"v":-3},{"r":42,"c":27,"v":-3},{"r":42,"c":28,"v":-3},{"r":42,"c":29,"v":-3},{"r":42,"c":30,"v":-3},
{"r":43,"c":1,"v":6},{"r":43,"c":2,"v":10},{"r":43,"c":3,"v":6},{"r":43,"c":4,"v":1},{"r":43,"c":5,"v":-3},{"r":43,"c":6,"v":-3},{"r":43,"c":7,"v":-3},{"r":43,"c":8,"v":-2},{"r":43,"c":9,"v":-2},{"r":43,"c":10,"v":-3},{"r":43,"c":11,"v":2},{"r":43,"c":12,"v":-1},{"r":43,"c":13,"v":-3},{"r":43,"c":14,"v":-3},{"r":43,"c":15,"v":-3},{"r":43,"c":16,"v":-3},{"r":43,"c":17,"v":-3},{"r":43,"c":18,"v":-3},{"r":43,"c":19,"v":1},{"r":43,"c":20,"v":-3},{"r":43,"c":21,"v":0},{"r":43,"c":22,"v":-3},{"r":43,"c":23,"v":-3},{"r":43,"c":24,"v":-3},{"r":43,"c":25,"v":-2},{"r":43,"c":26,"v":-3},{"r":43,"c":27,"v":-3},{"r":43,"c":28,"v":-3},{"r":43,"c":29,"v":-3},{"r":43,"c":30,"v":-3},
{"r":44,"c":1,"v":10},{"r":44,"c":2,"v":10},{"r":44,"c":3,"v":4},{"r":44,"c":4,"v":2},{"r":44,"c":5,"v":-4},{"r":44,"c":6,"v":-4},{"r":44,"c":7,"v":-4},{"r":44,"c":8,"v":-1},{"r":44,"c":9,"v":-4},{"r":44,"c":10,"v":-4},{"r":44,"c":11,"v":2},{"r":44,"c":12,"v":1},{"r":44,"c":13,"v":-3},{"r":44,"c":14,"v":-3},{"r":44,"c":15,"v":-1},{"r":44,"c":16,"v":-4},{"r":44,"c":17,"v":-4},{"r":44,"c":18,"v":-4},{"r":44,"c":19,"v":-4},{"r":44,"c":20,"v":-4},{"r":44,"c":21,"v":6},{"r":44,"c":22,"v":-4},{"r":44,"c":23,"v":-4},{"r":44,"c":24,"v":-4},{"r":44,"c":25,"v":-4},{"r":44,"c":26,"v":-4},{"r":44,"c":27,"v":-4},{"r":44,"c":28,"v":-4},{"r":44,"c":29,"v":-4},{"r":44,"c":30,"v":-4},
{"r":45,"c":1,"v":6},{"r":45,"c":2,"v":6},{"r":45,"c":3,"v":-9},{"r":45,"c":4,"v":-9},{"r":45,"c":5,"v":6},{"r":45,"c":6,"v":1},{"r":45,"c":7,"v":1},{"r":45,"c":8,"v":3},{"r":45,"c":9,"v":-9},{"r":45,"c":10,"v":3},{"r":45,"c":11,"v":6},{"r":45,"c":12,"v":1},{"r":45,"c":13,"v":-9},{"r":45,"c":14,"v":-9},{"r":45,"c":15,"v":1},{"r":45,"c":16,"v":-9},{"r":45,"c":17,"v":-9},{"r":45,"c":18,"v":-9},{"r":45,"c":19,"v":1},{"r":45,"c":20,"v":-9},{"r":45,"c":21,"v":-9},{"r":45,"c":22,"v":-9},{"r":45,"c":23,"v":1},{"r":45,"c":24,"v":-9},{"r":45,"c":25,"v":-9},{"r":45,"c":26,"v":-9},{"r":45,"c":27,"v":-9},{"r":45,"c":28,"v":-9},{"r":45,"c":29,"v":-9},{"r":45,"c":30,"v":4},
{"r":46,"c":1,"v":1},{"r":46,"c":2,"v":10},{"r":46,"c":3,"v":2},{"r":46,"c":4,"v":-5},{"r":46,"c":5,"v":-1},{"r":46,"c":6,"v":-5},{"r":46,"c":7,"v":-1},{"r":46,"c":8,"v":7},{"r":46,"c":9,"v":1},{"r":46,"c":10,"v":-1},{"r":46,"c":11,"v":8},{"r":46,"c":12,"v":-1},{"r":46,"c":13,"v":-4},{"r":46,"c":14,"v":-5},{"r":46,"c":15,"v":-3},{"r":46,"c":16,"v":-5},{"r":46,"c":17,"v":-5},{"r":46,"c":18,"v":-5},{"r":46,"c":19,"v":1},{"r":46,"c":20,"v":-5},{"r":46,"c":21,"v":-1},{"r":46,"c":22,"v":-5},{"r":46,"c":23,"v":-5},{"r":46,"c":24,"v":-5},{"r":46,"c":25,"v":-5},{"r":46,"c":26,"v":-1},{"r":46,"c":27,"v":-5},{"r":46,"c":28,"v":-5},{"r":46,"c":29,"v":-5},{"r":46,"c":30,"v":-5},
{"r":47,"c":1,"v":1},{"r":47,"c":2,"v":-6},{"r":47,"c":3,"v":-2},{"r":47,"c":4,"v":-2},{"r":47,"c":5,"v":4},{"r":47,"c":6,"v":10},{"r":47,"c":7,"v":8},{"r":47,"c":8,"v":0},{"r":47,"c":9,"v":-2},{"r":47,"c":10,"v":-3},{"r":47,"c":11,"v":-1},{"r":47,"c":12,"v":6},{"r":47,"c":13,"v":-3},{"r":47,"c":14,"v":-3},{"r":47,"c":15,"v":-3},{"r":47,"c":16,"v":-3},{"r":47,"c":17,"v":-3},{"r":47,"c":18,"v":-3},{"r":47,"c":19,"v":-5},{"r":47,"c":20,"v":-4},{"r":47,"c":21,"v":-4},{"r":47,"c":22,"v":-5},{"r":47,"c":23,"v":-3},{"r":47,"c":24,"v":-3},{"r":47,"c":25,"v":-3},{"r":47,"c":26,"v":-5},{"r":47,"c":27,"v":-5},{"r":47,"c":28,"v":-3},{"r":47,"c":29,"v":-3},{"r":47,"c":30,"v":-2},
{"r":48,"c":1,"v":3},{"r":48,"c":2,"v":-3},{"r":48,"c":3,"v":-3},{"r":48,"c":4,"v":-2},{"r":48,"c":5,"v":1},{"r":48,"c":6,"v":10},{"r":48,"c":7,"v":1},{"r":48,"c":8,"v":-2},{"r":48,"c":9,"v":0},{"r":48,"c":10,"v":-2},{"r":48,"c":11,"v":1},{"r":48,"c":12,"v":-3},{"r":48,"c":13,"v":-3},{"r":48,"c":14,"v":-2},{"r":48,"c":15,"v":-3},{"r":48,"c":16,"v":-3},{"r":48,"c":17,"v":-3},{"r":48,"c":18,"v":-3},{"r":48,"c":19,"v":-3},{"r":48,"c":20,"v":-3},{"r":48,"c":21,"v":-2},{"r":48,"c":22,"v":0},{"r":48,"c":23,"v":0},{"r":48,"c":24,"v":-3},{"r":48,"c":25,"v":-3},{"r":48,"c":26,"v":-3},{"r":48,"c":27,"v":-3},{"r":48,"c":28,"v":-3},{"r":48,"c":29,"v":-2},{"r":48,"c":30,"v":0},
{"r":49,"c":1,"v":0},{"r":49,"c":2,"v":0},{"r":49,"c":3,"v":-3},{"r":49,"c":4,"v":1},{"r":49,"c":5,"v":-1},{"r":49,"c":6,"v":10},{"r":49,"c":7,"v":1},{"r":49,"c":8,"v":-2},{"r":49,"c":9,"v":0},{"r":49,"c":10,"v":-2},{"r":49,"c":11,"v":0},{"r":49,"c":12,"v":3},{"r":49,"c":13,"v":-5},{"r":49,"c":14,"v":-2},{"r":49,"c":15,"v":-6},{"r":49,"c":16,"v":-2},{"r":49,"c":17,"v":-3},{"r":49,"c":18,"v":-4},{"r":49,"c":19,"v":-5},{"r":49,"c":20,"v":-2},{"r":49,"c":21,"v":-6},{"r":49,"c":22,"v":-3},{"r":49,"c":23,"v":-2},{"r":49,"c":24,"v":-4},{"r":49,"c":25,"v":-3},{"r":49,"c":26,"v":-5},{"r":49,"c":27,"v":-5},{"r":49,"c":28,"v":-3},{"r":49,"c":29,"v":1},{"r":49,"c":30,"v":0},
{"r":50,"c":1,"v":4},{"r":50,"c":2,"v":0},{"r":50,"c":3,"v":3},{"r":50,"c":4,"v":-2},{"r":50,"c":5,"v":1},{"r":50,"c":6,"v":8},{"r":50,"c":7,"v":10},{"r":50,"c":8,"v":-6},{"r":50,"c":9,"v":-2},{"r":50,"c":10,"v":-2},{"r":50,"c":11,"v":6},{"r":50,"c":12,"v":-3},{"r":50,"c":13,"v":-9},{"r":50,"c":14,"v":1},{"r":50,"c":15,"v":-9},{"r":50,"c":16,"v":-9},{"r":50,"c":17,"v":-9},{"r":50,"c":18,"v":-8},{"r":50,"c":19,"v":-10},{"r":50,"c":20,"v":-2},{"r":50,"c":21,"v":-9},{"r":50,"c":22,"v":-4},{"r":50,"c":23,"v":-3},{"r":50,"c":24,"v":-10},{"r":50,"c":25,"v":0},{"r":50,"c":26,"v":-9},{"r":50,"c":27,"v":-6},{"r":50,"c":28,"v":-5},{"r":50,"c":29,"v":1},{"r":50,"c":30,"v":-3},
{"r":51,"c":1,"v":3},{"r":51,"c":2,"v":-9},{"r":51,"c":3,"v":1},{"r":51,"c":4,"v":-2},{"r":51,"c":5,"v":1},{"r":51,"c":6,"v":10},{"r":51,"c":7,"v":4},{"r":51,"c":8,"v":1},{"r":51,"c":9,"v":2},{"r":51,"c":10,"v":5},{"r":51,"c":11,"v":1},{"r":51,"c":12,"v":-4},{"r":51,"c":13,"v":-8},{"r":51,"c":14,"v":-8},{"r":51,"c":15,"v":-9},{"r":51,"c":16,"v":-9},{"r":51,"c":17,"v":7},{"r":51,"c":18,"v":-9},{"r":51,"c":19,"v":-8},{"r":51,"c":20,"v":-8},{"r":51,"c":21,"v":-4},{"r":51,"c":22,"v":-3},{"r":51,"c":23,"v":2},{"r":51,"c":24,"v":-9},{"r":51,"c":25,"v":1},{"r":51,"c":26,"v":-9},{"r":51,"c":27,"v":-7},{"r":51,"c":28,"v":-9},{"r":51,"c":29,"v":-6},{"r":51,"c":30,"v":-2},
{"r":52,"c":1,"v":5},{"r":52,"c":2,"v":3},{"r":52,"c":3,"v":5},{"r":52,"c":4,"v":3},{"r":52,"c":5,"v":4},{"r":52,"c":6,"v":-1},{"r":52,"c":7,"v":2},{"r":52,"c":8,"v":4},{"r":52,"c":9,"v":3},{"r":52,"c":10,"v":2},{"r":52,"c":11,"v":1},{"r":52,"c":12,"v":5},{"r":52,"c":13,"v":-10},{"r":52,"c":14,"v":-10},{"r":52,"c":15,"v":-1},{"r":52,"c":16,"v":0},{"r":52,"c":17,"v":-10},{"r":52,"c":18,"v":-10},{"r":52,"c":19,"v":-9},{"r":52,"c":20,"v":-10},{"r":52,"c":21,"v":-2},{"r":52,"c":22,"v":-5},{"r":52,"c":23,"v":-3},{"r":52,"c":24,"v":-10},{"r":52,"c":25,"v":-10},{"r":52,"c":26,"v":-9},{"r":52,"c":27,"v":-10},{"r":52,"c":28,"v":-5},{"r":52,"c":29,"v":-1},{"r":52,"c":30,"v":1},
{"r":53,"c":1,"v":7},{"r":53,"c":2,"v":-5},{"r":53,"c":3,"v":2},{"r":53,"c":4,"v":7},{"r":53,"c":5,"v":-3},{"r":53,"c":6,"v":-7},{"r":53,"c":7,"v":3},{"r":53,"c":8,"v":2},{"r":53,"c":9,"v":7},{"r":53,"c":10,"v":3},{"r":53,"c":11,"v":3},{"r":53,"c":12,"v":5},{"r":53,"c":13,"v":-10},{"r":53,"c":14,"v":-9},{"r":53,"c":15,"v":-4},{"r":53,"c":16,"v":-10},{"r":53,"c":17,"v":-5},{"r":53,"c":18,"v":-10},{"r":53,"c":19,"v":-9},{"r":53,"c":20,"v":-6},{"r":53,"c":21,"v":-6},{"r":53,"c":22,"v":-5},{"r":53,"c":23,"v":-8},{"r":53,"c":24,"v":-5},{"r":53,"c":25,"v":-4},{"r":53,"c":26,"v":-7},{"r":53,"c":27,"v":-9},{"r":53,"c":28,"v":-6},{"r":53,"c":29,"v":-1},{"r":53,"c":30,"v":3},
{"r":54,"c":1,"v":5},{"r":54,"c":2,"v":-6},{"r":54,"c":3,"v":5},{"r":54,"c":4,"v":2},{"r":54,"c":5,"v":0},{"r":54,"c":6,"v":-2},{"r":54,"c":7,"v":2},{"r":54,"c":8,"v":-3},{"r":54,"c":9,"v":5},{"r":54,"c":10,"v":6},{"r":54,"c":11,"v":1},{"r":54,"c":12,"v":10},{"r":54,"c":13,"v":-7},{"r":54,"c":14,"v":-8},{"r":54,"c":15,"v":1},{"r":54,"c":16,"v":-8},{"r":54,"c":17,"v":-7},{"r":54,"c":18,"v":-8},{"r":54,"c":19,"v":-7},{"r":54,"c":20,"v":-7},{"r":54,"c":21,"v":-7},{"r":54,"c":22,"v":-6},{"r":54,"c":23,"v":3},{"r":54,"c":24,"v":-6},{"r":54,"c":25,"v":-6},{"r":54,"c":26,"v":-7},{"r":54,"c":27,"v":-7},{"r":54,"c":28,"v":-7},{"r":54,"c":29,"v":-2},{"r":54,"c":30,"v":-8},
{"r":55,"c":1,"v":6},{"r":55,"c":2,"v":-8},{"r":55,"c":3,"v":1},{"r":55,"c":4,"v":0},{"r":55,"c":5,"v":6},{"r":55,"c":6,"v":-1},{"r":55,"c":7,"v":8},{"r":55,"c":8,"v":4},{"r":55,"c":9,"v":2},{"r":55,"c":10,"v":-3},{"r":55,"c":11,"v":1},{"r":55,"c":12,"v":8},{"r":55,"c":13,"v":-7},{"r":55,"c":14,"v":-7},{"r":55,"c":15,"v":-4},{"r":55,"c":16,"v":-7},{"r":55,"c":17,"v":-6},{"r":55,"c":18,"v":-7},{"r":55,"c":19,"v":-7},{"r":55,"c":20,"v":-6},{"r":55,"c":21,"v":-6},{"r":55,"c":22,"v":-6},{"r":55,"c":23,"v":-2},{"r":55,"c":24,"v":-6},{"r":55,"c":25,"v":-7},{"r":55,"c":26,"v":-5},{"r":55,"c":27,"v":-6},{"r":55,"c":28,"v":-4},{"r":55,"c":29,"v":-1},{"r":55,"c":30,"v":4},
{"r":56,"c":1,"v":4},{"r":56,"c":2,"v":-2},{"r":56,"c":3,"v":2},{"r":56,"c":4,"v":2},{"r":56,"c":5,"v":4},{"r":56,"c":6,"v":1},{"r":56,"c":7,"v":3},{"r":56,"c":8,"v":4},{"r":56,"c":9,"v":5},{"r":56,"c":10,"v":2},{"r":56,"c":11,"v":3},{"r":56,"c":12,"v":10},{"r":56,"c":13,"v":-10},{"r":56,"c":14,"v":-10},{"r":56,"c":15,"v":-6},{"r":56,"c":16,"v":-10},{"r":56,"c":17,"v":-10},{"r":56,"c":18,"v":-10},{"r":56,"c":19,"v":-10},{"r":56,"c":20,"v":-10},{"r":56,"c":21,"v":-10},{"r":56,"c":22,"v":1},{"r":56,"c":23,"v":-4},{"r":56,"c":24,"v":-10},{"r":56,"c":25,"v":-10},{"r":56,"c":26,"v":-10},{"r":56,"c":27,"v":-10},{"r":56,"c":28,"v":-7},{"r":56,"c":29,"v":2},{"r":56,"c":30,"v":0},
{"r":57,"c":1,"v":5},{"r":57,"c":2,"v":-9},{"r":57,"c":3,"v":2},{"r":57,"c":4,"v":3},{"r":57,"c":5,"v":2},{"r":57,"c":6,"v":-2},{"r":57,"c":7,"v":5},{"r":57,"c":8,"v":2},{"r":57,"c":9,"v":2},{"r":57,"c":10,"v":6},{"r":57,"c":11,"v":2},{"r":57,"c":12,"v":9},{"r":57,"c":13,"v":-2},{"r":57,"c":14,"v":-9},{"r":57,"c":15,"v":-9},{"r":57,"c":16,"v":-9},{"r":57,"c":17,"v":-8},{"r":57,"c":18,"v":-9},{"r":57,"c":19,"v":-9},{"r":57,"c":20,"v":-9},{"r":57,"c":21,"v":-8},{"r":57,"c":22,"v":1},{"r":57,"c":23,"v":-3},{"r":57,"c":24,"v":-9},{"r":57,"c":25,"v":-9},{"r":57,"c":26,"v":-7},{"r":57,"c":27,"v":-9},{"r":57,"c":28,"v":-5},{"r":57,"c":29,"v":-5},{"r":57,"c":30,"v":0},
{"r":58,"c":1,"v":-4},{"r":58,"c":2,"v":6},{"r":58,"c":3,"v":-4},{"r":58,"c":4,"v":-4},{"r":58,"c":5,"v":1},{"r":58,"c":6,"v":-4},{"r":58,"c":7,"v":10},{"r":58,"c":8,"v":-4},{"r":58,"c":9,"v":6},{"r":58,"c":10,"v":7},{"r":58,"c":11,"v":1},{"r":58,"c":12,"v":-4},{"r":58,"c":13,"v":-4},{"r":58,"c":14,"v":-4},{"r":58,"c":15,"v":-4},{"r":58,"c":16,"v":-3},{"r":58,"c":17,"v":-4},{"r":58,"c":18,"v":-4},{"r":58,"c":19,"v":-4},{"r":58,"c":20,"v":-3},{"r":58,"c":21,"v":-3},{"r":58,"c":22,"v":-4},{"r":58,"c":23,"v":2},{"r":58,"c":24,"v":-4},{"r":58,"c":25,"v":-4},{"r":58,"c":26,"v":-4},{"r":58,"c":27,"v":-3},{"r":58,"c":28,"v":-3},{"r":58,"c":29,"v":-3},{"r":58,"c":30,"v":-4},
{"r":59,"c":1,"v":4},{"r":59,"c":2,"v":-3},{"r":59,"c":3,"v":-3},{"r":59,"c":4,"v":-3},{"r":59,"c":5,"v":10},{"r":59,"c":6,"v":-3},{"r":59,"c":7,"v":10},{"r":59,"c":8,"v":-4},{"r":59,"c":9,"v":7},{"r":59,"c":10,"v":-3},{"r":59,"c":11,"v":-3},{"r":59,"c":12,"v":-3},{"r":59,"c":13,"v":-3},{"r":59,"c":14,"v":-3},{"r":59,"c":15,"v":-3},{"r":59,"c":16,"v":-3},{"r":59,"c":17,"v":-3},{"r":59,"c":18,"v":-3},{"r":59,"c":19,"v":-3},{"r":59,"c":20,"v":-3},{"r":59,"c":21,"v":-3},{"r":59,"c":22,"v":-4},{"r":59,"c":23,"v":-2},{"r":59,"c":24,"v":-3},{"r":59,"c":25,"v":-3},{"r":59,"c":26,"v":-3},{"r":59,"c":27,"v":-3},{"r":59,"c":28,"v":-3},{"r":59,"c":29,"v":-3},{"r":59,"c":30,"v":-3},
{"r":60,"c":1,"v":8},{"r":60,"c":2,"v":8},{"r":60,"c":3,"v":-3},{"r":60,"c":4,"v":-3},{"r":60,"c":5,"v":8},{"r":60,"c":6,"v":-3},{"r":60,"c":7,"v":8},{"r":60,"c":8,"v":-3},{"r":60,"c":9,"v":-3},{"r":60,"c":10,"v":-3},{"r":60,"c":11,"v":-3},{"r":60,"c":12,"v":-3},{"r":60,"c":13,"v":-3},{"r":60,"c":14,"v":-3},{"r":60,"c":15,"v":-3},{"r":60,"c":16,"v":-3},{"r":60,"c":17,"v":-3},{"r":60,"c":18,"v":-3},{"r":60,"c":19,"v":-3},{"r":60,"c":20,"v":-3},{"r":60,"c":21,"v":-3},{"r":60,"c":22,"v":-3},{"r":60,"c":23,"v":-3},{"r":60,"c":24,"v":-3},{"r":60,"c":25,"v":-3},{"r":60,"c":26,"v":-3},{"r":60,"c":27,"v":-3},{"r":60,"c":28,"v":-3},{"r":60,"c":29,"v":-3},{"r":60,"c":30,"v":-3},
{"r":61,"c":1,"v":10},{"r":61,"c":2,"v":-4},{"r":61,"c":3,"v":0},{"r":61,"c":4,"v":-4},{"r":61,"c":5,"v":2},{"r":61,"c":6,"v":-3},{"r":61,"c":7,"v":8},{"r":61,"c":8,"v":-6},{"r":61,"c":9,"v":7},{"r":61,"c":10,"v":-4},{"r":61,"c":11,"v":0},{"r":61,"c":12,"v":2},{"r":61,"c":13,"v":-4},{"r":61,"c":14,"v":2},{"r":61,"c":15,"v":-4},{"r":61,"c":16,"v":2},{"r":61,"c":17,"v":-4},{"r":61,"c":18,"v":-3},{"r":61,"c":19,"v":-4},{"r":61,"c":20,"v":-4},{"r":61,"c":21,"v":-4},{"r":61,"c":22,"v":-4},{"r":61,"c":23,"v":-5},{"r":61,"c":24,"v":-4},{"r":61,"c":25,"v":-4},{"r":61,"c":26,"v":-4},{"r":61,"c":27,"v":-4},{"r":61,"c":28,"v":-4},{"r":61,"c":29,"v":-3},{"r":61,"c":30,"v":-5},
{"r":62,"c":1,"v":10},{"r":62,"c":2,"v":-7},{"r":62,"c":3,"v":1},{"r":62,"c":4,"v":-4},{"r":62,"c":5,"v":3},{"r":62,"c":6,"v":3},{"r":62,"c":7,"v":9},{"r":62,"c":8,"v":-4},{"r":62,"c":9,"v":3},{"r":62,"c":10,"v":3},{"r":62,"c":11,"v":2},{"r":62,"c":12,"v":-1},{"r":62,"c":13,"v":-7},{"r":62,"c":14,"v":-6},{"r":62,"c":15,"v":-6},{"r":62,"c":16,"v":-5},{"r":62,"c":17,"v":-6},{"r":62,"c":18,"v":-6},{"r":62,"c":19,"v":-6},{"r":62,"c":20,"v":-6},{"r":62,"c":21,"v":-6},{"r":62,"c":22,"v":4},{"r":62,"c":23,"v":-7},{"r":62,"c":24,"v":-6},{"r":62,"c":25,"v":-6},{"r":62,"c":26,"v":-6},{"r":62,"c":27,"v":-5},{"r":62,"c":28,"v":-6},{"r":62,"c":29,"v":0},{"r":62,"c":30,"v":-7},
{"r":63,"c":1,"v":10},{"r":63,"c":2,"v":-4},{"r":63,"c":3,"v":-5},{"r":63,"c":4,"v":0},{"r":63,"c":5,"v":3},{"r":63,"c":6,"v":5},{"r":63,"c":7,"v":0},{"r":63,"c":8,"v":-5},{"r":63,"c":9,"v":-5},{"r":63,"c":10,"v":-5},{"r":63,"c":11,"v":3},{"r":63,"c":12,"v":-4},{"r":63,"c":13,"v":-4},{"r":63,"c":14,"v":-4},{"r":63,"c":15,"v":0},{"r":63,"c":16,"v":-4},{"r":63,"c":17,"v":-3},{"r":63,"c":18,"v":-3},{"r":63,"c":19,"v":0},{"r":63,"c":20,"v":-4},{"r":63,"c":21,"v":-4},{"r":63,"c":22,"v":-4},{"r":63,"c":23,"v":-4},{"r":63,"c":24,"v":0},{"r":63,"c":25,"v":0},{"r":63,"c":26,"v":0},{"r":63,"c":27,"v":-3},{"r":63,"c":28,"v":-3},{"r":63,"c":29,"v":-4},{"r":63,"c":30,"v":-3},
{"r":64,"c":1,"v":6},{"r":64,"c":2,"v":-4},{"r":64,"c":3,"v":-6},{"r":64,"c":4,"v":-5},{"r":64,"c":5,"v":10},{"r":64,"c":6,"v":-5},{"r":64,"c":7,"v":1},{"r":64,"c":8,"v":5},{"r":64,"c":9,"v":0},{"r":64,"c":10,"v":-4},{"r":64,"c":11,"v":-4},{"r":64,"c":12,"v":-5},{"r":64,"c":13,"v":-4},{"r":64,"c":14,"v":-5},{"r":64,"c":15,"v":-4},{"r":64,"c":16,"v":-3},{"r":64,"c":17,"v":-3},{"r":64,"c":18,"v":-4},{"r":64,"c":19,"v":-4},{"r":64,"c":20,"v":-3},{"r":64,"c":21,"v":-3},{"r":64,"c":22,"v":-5},{"r":64,"c":23,"v":-2},{"r":64,"c":24,"v":-3},{"r":64,"c":25,"v":-3},{"r":64,"c":26,"v":-3},{"r":64,"c":27,"v":-3},{"r":64,"c":28,"v":-3},{"r":64,"c":29,"v":8},{"r":64,"c":30,"v":5},
{"r":65,"c":1,"v":6},{"r":65,"c":2,"v":-2},{"r":65,"c":3,"v":-9},{"r":65,"c":4,"v":3},{"r":65,"c":5,"v":2},{"r":65,"c":6,"v":3},{"r":65,"c":7,"v":-4},{"r":65,"c":8,"v":10},{"r":65,"c":9,"v":2},{"r":65,"c":10,"v":1},{"r":65,"c":11,"v":2},{"r":65,"c":12,"v":2},{"r":65,"c":13,"v":-8},{"r":65,"c":14,"v":-8},{"r":65,"c":15,"v":0},{"r":65,"c":16,"v":-3},{"r":65,"c":17,"v":-8},{"r":65,"c":18,"v":-8},{"r":65,"c":19,"v":-8},{"r":65,"c":20,"v":-8},{"r":65,"c":21,"v":-8},{"r":65,"c":22,"v":0},{"r":65,"c":23,"v":-8},{"r":65,"c":24,"v":-8},{"r":65,"c":25,"v":-8},{"r":65,"c":26,"v":-7},{"r":65,"c":27,"v":-7},{"r":65,"c":28,"v":-8},{"r":65,"c":29,"v":2},{"r":65,"c":30,"v":0},
{"r":66,"c":1,"v":-3},{"r":66,"c":2,"v":8},{"r":66,"c":3,"v":-5},{"r":66,"c":4,"v":1},{"r":66,"c":5,"v":3},{"r":66,"c":6,"v":10},{"r":66,"c":7,"v":-5},{"r":66,"c":8,"v":-5},{"r":66,"c":9,"v":3},{"r":66,"c":10,"v":-4},{"r":66,"c":11,"v":1},{"r":66,"c":12,"v":-4},{"r":66,"c":13,"v":-3},{"r":66,"c":14,"v":-3},{"r":66,"c":15,"v":-3},{"r":66,"c":16,"v":-3},{"r":66,"c":17,"v":-3},{"r":66,"c":18,"v":-3},{"r":66,"c":19,"v":-4},{"r":66,"c":20,"v":-3},{"r":66,"c":21,"v":-3},{"r":66,"c":22,"v":-4},{"r":66,"c":23,"v":-3},{"r":66,"c":24,"v":-3},{"r":66,"c":25,"v":-3},{"r":66,"c":26,"v":-3},{"r":66,"c":27,"v":-3},{"r":66,"c":28,"v":-3},{"r":66,"c":29,"v":-4},{"r":66,"c":30,"v":-4},
{"r":67,"c":1,"v":-4},{"r":67,"c":2,"v":2},{"r":67,"c":3,"v":-5},{"r":67,"c":4,"v":7},{"r":67,"c":5,"v":7},{"r":67,"c":6,"v":2},{"r":67,"c":7,"v":-5},{"r":67,"c":8,"v":-5},{"r":67,"c":9,"v":3},{"r":67,"c":10,"v":8},{"r":67,"c":11,"v":-4},{"r":67,"c":12,"v":-4},{"r":67,"c":13,"v":-3},{"r":67,"c":14,"v":-3},{"r":67,"c":15,"v":-4},{"r":67,"c":16,"v":-4},{"r":67,"c":17,"v":-3},{"r":67,"c":18,"v":-3},{"r":67,"c":19,"v":-3},{"r":67,"c":20,"v":-4},{"r":67,"c":21,"v":-4},{"r":67,"c":22,"v":-3},{"r":67,"c":23,"v":-4},{"r":67,"c":24,"v":-3},{"r":67,"c":25,"v":-3},{"r":67,"c":26,"v":-3},{"r":67,"c":27,"v":-3},{"r":67,"c":28,"v":-3},{"r":67,"c":29,"v":9},{"r":67,"c":30,"v":-3},
{"r":68,"c":1,"v":1},{"r":68,"c":2,"v":-5},{"r":68,"c":3,"v":-5},{"r":68,"c":4,"v":-1},{"r":68,"c":5,"v":10},{"r":68,"c":6,"v":6},{"r":68,"c":7,"v":5},{"r":68,"c":8,"v":-9},{"r":68,"c":9,"v":3},{"r":68,"c":10,"v":2},{"r":68,"c":11,"v":0},{"r":68,"c":12,"v":4},{"r":68,"c":13,"v":-9},{"r":68,"c":14,"v":-10},{"r":68,"c":15,"v":-2},{"r":68,"c":16,"v":-10},{"r":68,"c":17,"v":-2},{"r":68,"c":18,"v":-9},{"r":68,"c":19,"v":-10},{"r":68,"c":20,"v":-10},{"r":68,"c":21,"v":-3},{"r":68,"c":22,"v":-1},{"r":68,"c":23,"v":3},{"r":68,"c":24,"v":-10},{"r":68,"c":25,"v":-5},{"r":68,"c":26,"v":-9},{"r":68,"c":27,"v":-10},{"r":68,"c":28,"v":-3},{"r":68,"c":29,"v":1},{"r":68,"c":30,"v":-1},
{"r":69,"c":1,"v":3},{"r":69,"c":2,"v":-8},{"r":69,"c":3,"v":1},{"r":69,"c":4,"v":0},{"r":69,"c":5,"v":10},{"r":69,"c":6,"v":4},{"r":69,"c":7,"v":6},{"r":69,"c":8,"v":2},{"r":69,"c":9,"v":1},{"r":69,"c":10,"v":3},{"r":69,"c":11,"v":-7},{"r":69,"c":12,"v":5},{"r":69,"c":13,"v":-8},{"r":69,"c":14,"v":-8},{"r":69,"c":15,"v":-8},{"r":69,"c":16,"v":-8},{"r":69,"c":17,"v":-8},{"r":69,"c":18,"v":-7},{"r":69,"c":19,"v":-8},{"r":69,"c":20,"v":-8},{"r":69,"c":21,"v":-8},{"r":69,"c":22,"v":0},{"r":69,"c":23,"v":-3},{"r":69,"c":24,"v":-7},{"r":69,"c":25,"v":-8},{"r":69,"c":26,"v":-7},{"r":69,"c":27,"v":-7},{"r":69,"c":28,"v":-8},{"r":69,"c":29,"v":1},{"r":69,"c":30,"v":-2},
{"r":70,"c":1,"v":6},{"r":70,"c":2,"v":-3},{"r":70,"c":3,"v":-3},{"r":70,"c":4,"v":2},{"r":70,"c":5,"v":10},{"r":70,"c":6,"v":-4},{"r":70,"c":7,"v":-4},{"r":70,"c":8,"v":-3},{"r":70,"c":9,"v":2},{"r":70,"c":10,"v":-3},{"r":70,"c":11,"v":-4},{"r":70,"c":12,"v":10},{"r":70,"c":13,"v":-3},{"r":70,"c":14,"v":-3},{"r":70,"c":15,"v":-3},{"r":70,"c":16,"v":-3},{"r":70,"c":17,"v":-3},{"r":70,"c":18,"v":-3},{"r":70,"c":19,"v":-3},{"r":70,"c":20,"v":-3},{"r":70,"c":21,"v":-3},{"r":70,"c":22,"v":-4},{"r":70,"c":23,"v":-3},{"r":70,"c":24,"v":-3},{"r":70,"c":25,"v":-3},{"r":70,"c":26,"v":-3},{"r":70,"c":27,"v":-3},{"r":70,"c":28,"v":-3},{"r":70,"c":29,"v":-3},{"r":70,"c":30,"v":-3},
{"r":71,"c":1,"v":3},{"r":71,"c":2,"v":-1},{"r":71,"c":3,"v":0},{"r":71,"c":4,"v":2},{"r":71,"c":5,"v":10},{"r":71,"c":6,"v":1},{"r":71,"c":7,"v":1},{"r":71,"c":8,"v":2},{"r":71,"c":9,"v":3},{"r":71,"c":10,"v":1},{"r":71,"c":11,"v":3},{"r":71,"c":12,"v":5},{"r":71,"c":13,"v":-9},{"r":71,"c":14,"v":-9},{"r":71,"c":15,"v":-4},{"r":71,"c":16,"v":-5},{"r":71,"c":17,"v":-9},{"r":71,"c":18,"v":-9},{"r":71,"c":19,"v":-9},{"r":71,"c":20,"v":-6},{"r":71,"c":21,"v":-9},{"r":71,"c":22,"v":1},{"r":71,"c":23,"v":-9},{"r":71,"c":24,"v":-9},{"r":71,"c":25,"v":-6},{"r":71,"c":26,"v":-5},{"r":71,"c":27,"v":-9},{"r":71,"c":28,"v":-8},{"r":71,"c":29,"v":-4},{"r":71,"c":30,"v":0},
{"r":72,"c":1,"v":1},{"r":72,"c":2,"v":-3},{"r":72,"c":3,"v":1},{"r":72,"c":4,"v":-3},{"r":72,"c":5,"v":10},{"r":72,"c":6,"v":6},{"r":72,"c":7,"v":1},{"r":72,"c":8,"v":-3},{"r":72,"c":9,"v":-3},{"r":72,"c":10,"v":4},{"r":72,"c":11,"v":-3},{"r":72,"c":12,"v":-3},{"r":72,"c":13,"v":-3},{"r":72,"c":14,"v":-3},{"r":72,"c":15,"v":-4},{"r":72,"c":16,"v":-4},{"r":72,"c":17,"v":-4},{"r":72,"c":18,"v":-4},{"r":72,"c":19,"v":-4},{"r":72,"c":20,"v":-4},{"r":72,"c":21,"v":-4},{"r":72,"c":22,"v":-4},{"r":72,"c":23,"v":2},{"r":72,"c":24,"v":-4},{"r":72,"c":25,"v":-4},{"r":72,"c":26,"v":-4},{"r":72,"c":27,"v":-4},{"r":72,"c":28,"v":-4},{"r":72,"c":29,"v":-4},{"r":72,"c":30,"v":-4},
{"r":73,"c":1,"v":0},{"r":73,"c":2,"v":-3},{"r":73,"c":3,"v":-2},{"r":73,"c":4,"v":0},{"r":73,"c":5,"v":10},{"r":73,"c":6,"v":4},{"r":73,"c":7,"v":1},{"r":73,"c":8,"v":0},{"r":73,"c":9,"v":0},{"r":73,"c":10,"v":-2},{"r":73,"c":11,"v":-2},{"r":73,"c":12,"v":1},{"r":73,"c":13,"v":-1},{"r":73,"c":14,"v":-2},{"r":73,"c":15,"v":-4},{"r":73,"c":16,"v":-1},{"r":73,"c":17,"v":-1},{"r":73,"c":18,"v":-4},{"r":73,"c":19,"v":-4},{"r":73,"c":20,"v":-4},{"r":73,"c":21,"v":-4},{"r":73,"c":22,"v":-1},{"r":73,"c":23,"v":0},{"r":73,"c":24,"v":-1},{"r":73,"c":25,"v":-4},{"r":73,"c":26,"v":-4},{"r":73,"c":27,"v":-4},{"r":73,"c":28,"v":-4},{"r":73,"c":29,"v":-4},{"r":73,"c":30,"v":-4},
{"r":74,"c":1,"v":0},{"r":74,"c":2,"v":-2},{"r":74,"c":3,"v":-2},{"r":74,"c":4,"v":0},{"r":74,"c":5,"v":10},{"r":74,"c":6,"v":-3},{"r":74,"c":7,"v":0},{"r":74,"c":8,"v":-2},{"r":74,"c":9,"v":1},{"r":74,"c":10,"v":-2},{"r":74,"c":11,"v":1},{"r":74,"c":12,"v":1},{"r":74,"c":13,"v":-2},{"r":74,"c":14,"v":-2},{"r":74,"c":15,"v":-3},{"r":74,"c":16,"v":-2},{"r":74,"c":17,"v":-3},{"r":74,"c":18,"v":-2},{"r":74,"c":19,"v":-2},{"r":74,"c":20,"v":-2},{"r":74,"c":21,"v":-2},{"r":74,"c":22,"v":-2},{"r":74,"c":23,"v":-2},{"r":74,"c":24,"v":-1},{"r":74,"c":25,"v":-3},{"r":74,"c":26,"v":-2},{"r":74,"c":27,"v":-3},{"r":74,"c":28,"v":-2},{"r":74,"c":29,"v":-3},{"r":74,"c":30,"v":-2},
{"r":75,"c":1,"v":-1},{"r":75,"c":2,"v":-1},{"r":75,"c":3,"v":-1},{"r":75,"c":4,"v":-1},{"r":75,"c":5,"v":10},{"r":75,"c":6,"v":-2},{"r":75,"c":7,"v":-1},{"r":75,"c":8,"v":-1},{"r":75,"c":9,"v":-1},{"r":75,"c":10,"v":-2},{"r":75,"c":11,"v":-2},{"r":75,"c":12,"v":-1},{"r":75,"c":13,"v":-1},{"r":75,"c":14,"v":-1},{"r":75,"c":15,"v":-2},{"r":75,"c":16,"v":-2},{"r":75,"c":17,"v":-2},{"r":75,"c":18,"v":-2},{"r":75,"c":19,"v":-2},{"r":75,"c":20,"v":-2},{"r":75,"c":21,"v":-2},{"r":75,"c":22,"v":-2},{"r":75,"c":23,"v":-2},{"r":75,"c":24,"v":-2},{"r":75,"c":25,"v":-2},{"r":75,"c":26,"v":-2},{"r":75,"c":27,"v":-2},{"r":75,"c":28,"v":-2},{"r":75,"c":29,"v":-2},{"r":75,"c":30,"v":-2},
{"r":76,"c":1,"v":-1},{"r":76,"c":2,"v":-2},{"r":76,"c":3,"v":-2},{"r":76,"c":4,"v":0},{"r":76,"c":5,"v":10},{"r":76,"c":6,"v":-2},{"r":76,"c":7,"v":-1},{"r":76,"c":8,"v":-2},{"r":76,"c":9,"v":-1},{"r":76,"c":10,"v":-2},{"r":76,"c":11,"v":-2},{"r":76,"c":12,"v":1},{"r":76,"c":13,"v":-2},{"r":76,"c":14,"v":-2},{"r":76,"c":15,"v":-2},{"r":76,"c":16,"v":-1},{"r":76,"c":17,"v":1},{"r":76,"c":18,"v":-2},{"r":76,"c":19,"v":-2},{"r":76,"c":20,"v":-2},{"r":76,"c":21,"v":-2},{"r":76,"c":22,"v":-2},{"r":76,"c":23,"v":-2},{"r":76,"c":24,"v":-1},{"r":76,"c":25,"v":-2},{"r":76,"c":26,"v":-2},{"r":76,"c":27,"v":-2},{"r":76,"c":28,"v":-2},{"r":76,"c":29,"v":-2},{"r":76,"c":30,"v":-2}
],
"groups":[{"c":1,"g":"VAP+"},{"c":2,"g":"VAP+"},{"c":3,"g":"VAP+"},{"c":4,"g":"VAP+"},{"c":5,"g":"VAP+"},{"c":6,"g":"VAP+"},{"c":7,"g":"VAP+"},{"c":8,"g":"VAP+"},{"c":9,"g":"VAP+"},{"c":10,"g":"VAP+"},{"c":11,"g":"VAP+"},{"c":12,"g":"VAP-"},{"c":13,"g":"VAP-"},{"c":14,"g":"VAP-"},{"c":15,"g":"VAP-"},{"c":16,"g":"VAP-"},{"c":17,"g":"VAP+"},{"c":18,"g":"VAP-"},{"c":19,"g":"VAP-"},{"c":20,"g":"VAP-"},{"c":21,"g":"VAP-"},{"c":22,"g":"VAP-"},{"c":23,"g":"VAP-"},{"c":24,"g":"VAP-"},{"c":25,"g":"VAP-"},{"c":26,"g":"VAP+"},{"c":27,"g":"VAP-"},{"c":28,"g":"VAP-"},{"c":29,"g":"VAP+"},{"c":30,"g":"VAP-"}],
"top":[{"a":3,"ha":0,"b":4,"hb":0,"h":4,"t":"l"},{"a":2,"ha":0,"b":3.5,"hb":4,"h":9.3,"t":"d"},{"a":1,"ha":0,"b":2.75,"hb":9.3,"h":15,"t":"d"},{"a":9,"ha":0,"b":10,"hb":0,"h":2,"t":"l"},{"a":9.5,"ha":2,"b":11,"hb":0,"h":5.7,"t":"d"},{"a":8,"ha":0,"b":10.25,"hb":5.7,"h":9.3,"t":"d"},{"a":9.125,"ha":9.3,"b":12,"hb":0,"h":13.3,"t":"l"},{"a":7,"ha":0,"b":10.56,"hb":13.3,"h":17.7,"t":"d"},{"a":6,"ha":0,"b":8.78,"hb":17.7,"h":22.7,"t":"d"},{"a":5,"ha":0,"b":7.39,"hb":22.7,"h":28.7,"t":"l"},{"a":1.875,"ha":15,"b":6.195,"hb":28.7,"h":35.3,"t":"d"},{"a":18,"ha":0,"b":19,"hb":0,"h":2,"t":"l"},{"a":29,"ha":0,"b":30,"hb":0,"h":2,"t":"l"},{"a":20,"ha":0,"b":21,"hb":0,"h":2,"t":"l"},{"a":24,"ha":0,"b":25,"hb":0,"h":1.3,"t":"l"},{"a":23,"ha":0,"b":24.5,"hb":1.3,"h":3,"t":"l"},{"a":22,"ha":0,"b":23.75,"hb":3,"h":4.7,"t":"d"},{"a":27,"ha":0,"b":28,"hb":0,"h":1.3,"t":"l"},{"a":26,"ha":0,"b":27.5,"hb":1.3,"h":3.3,"t":"l"},{"a":22.875,"ha":4.7,"b":26.75,"hb":3.3,"h":6,"t":"l"},{"a":20.5,"ha":2,"b":24.81,"hb":6,"h":8,"t":"d"},{"a":22.66,"ha":8,"b":29.5,"hb":2,"h":11.3,"t":"d"},{"a":18.5,"ha":2,"b":26.08,"hb":11.3,"h":14.7,"t":"d"},{"a":17,"ha":0,"b":22.29,"hb":14.7,"h":17.7,"t":"l"},{"a":16,"ha":0,"b":19.645,"hb":17.7,"h":21.3,"t":"d"},{"a":15,"ha":0,"b":17.82,"hb":21.3,"h":25.3,"t":"d"},{"a":14,"ha":0,"b":16.41,"hb":25.3,"h":30.3,"t":"l"},{"a":13,"ha":0,"b":15.2,"hb":30.3,"h":35.3,"t":"d"},{"a":4.035,"ha":35.3,"b":14.1,"hb":35.3,"h":44,"t":"l"}],
"left":[{"a":1,"ha":0,"b":2,"hb":0,"h":3,"t":"d"},{"a":3,"ha":0,"b":4,"hb":0,"h":3,"t":"d"},{"a":7,"ha":0,"b":8,"hb":0,"h":2,"t":"l"},{"a":6,"ha":0,"b":7.5,"hb":2,"h":3.7,"t":"l"},{"a":5,"ha":0,"b":6.75,"hb":3.7,"h":6.3,"t":"d"},{"a":3.5,"ha":3,"b":5.875,"hb":6.3,"h":12,"t":"d"},{"a":1.5,"ha":3,"b":4.69,"hb":12,"h":18.7,"t":"d"},{"a":9,"ha":0,"b":10,"hb":0,"h":3,"t":"d"},{"a":11,"ha":0,"b":12,"hb":0,"h":5.3,"t":"d"},{"a":9.5,"ha":3,"b":11.5,"hb":5.3,"h":11.3,"t":"d"},{"a":10.5,"ha":11.3,"b":13,"hb":0,"h":17.7,"t":"d"},{"a":3.09,"ha":18.7,"b":11.75,"hb":17.7,"h":25.7,"t":"d"},{"a":14,"ha":0,"b":15,"hb":0,"h":3,"t":"d"},{"a":14.5,"ha":3,"b":16,"hb":0,"h":5.3,"t":"d"},{"a":17,"ha":0,"b":18,"hb":0,"h":3.7,"t":"d"},{"a":15.25,"ha":5.3,"b":17.5,"hb":3.7,"h":10.3,"t":"d"},{"a":19,"ha":0,"b":20,"hb":0,"h":5,"t":"d"},{"a":23,"ha":0,"b":24,"hb":0,"h":3.7,"t":"d"},{"a":22,"ha":0,"b":23.5,"hb":3.7,"h":7.7,"t":"d"},{"a":21,"ha":0,"b":22.75,"hb":7.7,"h":12.7,"t":"d"},{"a":19.5,"ha":5,"b":21.875,"hb":12.7,"h":19.7,"t":"d"},{"a":16.375,"ha":10.3,"b":20.69,"hb":19.7,"h":26.3,"t":"d"},{"a":25,"ha":0,"b":26,"hb":0,"h":3.7,"t":"d"},{"a":25.5,"ha":3.7,"b":27,"hb":0,"h":7,"t":"d"},{"a":29,"ha":0,"b":30,"hb":0,"h":3.7,"t":"d"},{"a":28,"ha":0,"b":29.5,"hb":3.7,"h":7,"t":"d"},{"a":26.25,"ha":7,"b":28.75,"hb":7,"h":12.7,"t":"d"},{"a":33,"ha":0,"b":34,"hb":0,"h":2.7,"t":"d"},{"a":32,"ha":0,"b":33.5,"hb":2.7,"h":5.3,"t":"d"},{"a":31,"ha":0,"b":32.75,"hb":5.3,"h":8,"t":"d"},{"a":35,"ha":0,"b":36,"hb":0,"h":4.3,"t":"d"},{"a":35.5,"ha":4.3,"b":37,"hb":0,"h":6.3,"t":"d"},{"a":36.25,"ha":6.3,"b":38,"hb":0,"h":8,"t":"d"},{"a":31.875,"ha":8,"b":37.125,"hb":8,"h":12.7,"t":"d"},{"a":27.5,"ha":12.7,"b":34.5,"hb":12.7,"h":18.7,"t":"d"},{"a":39,"ha":0,"b":40,"hb":0,"h":3,"t":"d"},{"a":41,"ha":0,"b":42,"hb":0,"h":3.7,"t":"d"},{"a":43,"ha":0,"b":44,"hb":0,"h":3,"t":"d"},{"a":41.5,"ha":3.7,"b":43.5,"hb":3,"h":7,"t":"d"},{"a":39.5,"ha":3,"b":42.5,"hb":7,"h":10.3,"t":"d"},{"a":45,"ha":0,"b":46,"hb":0,"h":4.3,"t":"d"},{"a":41,"ha":10.3,"b":45.5,"hb":4.3,"h":15.3,"t":"d"},{"a":31,"ha":18.7,"b":43.25,"hb":15.3,"h":24.7,"t":"l"},{"a":48,"ha":0,"b":49,"hb":0,"h":3,"t":"d"},{"a":47,"ha":0,"b":48.5,"hb":3,"h":5.3,"t":"d"},{"a":50,"ha":0,"b":51,"hb":0,"h":4.3,"t":"d"},{"a":47.75,"ha":5.3,"b":50.5,"hb":4.3,"h":8.7,"t":"d"},{"a":52,"ha":0,"b":53,"hb":0,"h":3.7,"t":"d"},{"a":52.5,"ha":3.7,"b":54,"hb":0,"h":7,"t":"d"},{"a":56,"ha":0,"b":57,"hb":0,"h":2,"t":"d"},{"a":55,"ha":0,"b":56.5,"hb":2,"h":5.3,"t":"d"},{"a":53.25,"ha":7,"b":55.75,"hb":5.3,"h":11.3,"t":"d"},{"a":59,"ha":0,"b":60,"hb":0,"h":3,"t":"d"},{"a":61,"ha":0,"b":62,"hb":0,"h":3,"t":"d"},{"a":59.5,"ha":3,"b":61.5,"hb":3,"h":7,"t":"d"},{"a":58,"ha":0,"b":60.5,"hb":7,"h":11.3,"t":"d"},{"a":54.5,"ha":11.3,"b":59.25,"hb":11.3,"h":18,"t":"d"},{"a":49.125,"ha":8.7,"b":56.875,"hb":18,"h":24.7,"t":"l"},{"a":64,"ha":0,"b":65,"hb":0,"h":4.3,"t":"d"},{"a":63,"ha":0,"b":64.5,"hb":4.3,"h":8.7,"t":"d"},{"a":66,"ha":0,"b":67,"hb":0,"h":4.7,"t":"d"},{"a":68,"ha":0,"b":69,"hb":0,"h":3.7,"t":"d"},{"a":70,"ha":0,"b":71,"hb":0,"h":3,"t":"d"},{"a":68.5,"ha":3.7,"b":70.5,"hb":3,"h":7.7,"t":"d"},{"a":75,"ha":0,"b":76,"hb":0,"h":2,"t":"l"},{"a":74,"ha":0,"b":75.5,"hb":2,"h":3.7,"t":"l"},{"a":73,"ha":0,"b":74.75,"hb":3.7,"h":5.3,"t":"l"},{"a":72,"ha":0,"b":73.875,"hb":5.3,"h":8,"t":"d"},{"a":69.5,"ha":7.7,"b":72.94,"hb":8,"h":13,"t":"d"},{"a":66.5,"ha":4.7,"b":71.22,"hb":13,"h":18,"t":"d"},{"a":63.75,"ha":8.7,"b":68.86,"hb":18,"h":24.7,"t":"l"},{"a":53,"ha":24.7,"b":66.3,"hb":24.7,"h":31.3,"t":"l"},{"a":37.125,"ha":24.7,"b":59.65,"hb":31.3,"h":38,"t":"l"},{"a":18.53,"ha":26.3,"b":48.39,"hb":38,"h":44.7,"t":"l"},{"a":7.42,"ha":25.7,"b":33.46,"hb":44.7,"h":52.7,"t":"d"}],
"keys":[{"c":1.32,"r":79.32,"g":"VAP+"},{"c":1.32,"r":82.3,"g":"VAP-"}],
"labels":[{"c":1.93,"r":79.6,"t":"VAP"},{"c":1.93,"r":82.6,"t":"VAP"}],
"marks":[{"c":3.5,"r":78.9,"t":"+"},{"c":3.5,"r":82,"t":"−"}],
"notes":[{"c":8.02,"r":80,"t":"decreased"},{"c":8.02,"r":82.25,"t":"abundance"},{"c":25.52,"r":80,"t":"increased"},{"c":25.52,"r":82.25,"t":"abundance"}]
},
"resolve":{"scale":{"x":"independent","y":"independent","color":"shared"}},
"layer":[
{"data":{"name":"cells"},"mark":{"type":"rect","width":23.13,"height":7.71,"stroke":"#000000","strokeWidth":1.4},"encoding":{"x":{"field":"c","type":"quantitative","axis":null,"scale":{"domain":[-1.964,30.673],"nice":false,"zero":false}},"y":{"field":"r","type":"quantitative","axis":null,"scale":{"domain":[84.03,-8.19],"nice":false,"zero":false}},"color":{"field":"v","type":"quantitative","scale":{"domain":[-10,0,10],"range":["#0000ff","#000000","#ff0000"],"interpolate":"rgb"},"legend":{"orient":"none","legendX":275,"legendY":678,"direction":"horizontal","title":null,"labelExpr":"''","labelOpacity":0,"labelFontSize":1,"gradientLength":317,"gradientThickness":15,"gradientStrokeWidth":0,"padding":0}}}},
{"data":{"name":"groups"},"mark":{"type":"rect","width":23.13,"height":17.6,"stroke":"#ffffff","strokeWidth":1,"strokeOpacity":0.7},"encoding":{"x":{"field":"c","type":"quantitative","axis":null,"scale":{"domain":[-1.964,30.673],"nice":false,"zero":false}},"y":{"datum":-6.52,"axis":null,"scale":{"domain":[84.03,-8.19],"nice":false,"zero":false}},"fill":{"field":"g","type":"nominal","scale":{"domain":["VAP+","VAP-"],"range":["#dd1c77","#ff8000"]},"legend":null}}},
{"data":{"name":"keys"},"mark":{"type":"rect","width":22,"height":18,"stroke":"#ffffff","strokeWidth":0},"encoding":{"x":{"field":"c","type":"quantitative","axis":null,"scale":{"domain":[-1.964,30.673],"nice":false,"zero":false}},"y":{"field":"r","type":"quantitative","axis":null,"scale":{"domain":[84.03,-8.19],"nice":false,"zero":false}},"fill":{"field":"g","type":"nominal","scale":{"domain":["VAP+","VAP-"],"range":["#dd1c77","#ff8000"]},"legend":null}}},
{"data":{"name":"labels"},"mark":{"type":"text","align":"left","baseline":"middle","font":"Liberation Sans","fontWeight":"bold","fontSize":17,"color":"#000000"},"encoding":{"x":{"field":"c","type":"quantitative","axis":null,"scale":{"domain":[-1.964,30.673],"nice":false,"zero":false}},"y":{"field":"r","type":"quantitative","axis":null,"scale":{"domain":[84.03,-8.19],"nice":false,"zero":false}},"text":{"field":"t"}}},
{"data":{"name":"marks"},"mark":{"type":"text","align":"left","baseline":"middle","font":"Liberation Sans","fontWeight":"bold","fontSize":18,"color":"#000000"},"encoding":{"x":{"field":"c","type":"quantitative","axis":null,"scale":{"domain":[-1.964,30.673],"nice":false,"zero":false}},"y":{"field":"r","type":"quantitative","axis":null,"scale":{"domain":[84.03,-8.19],"nice":false,"zero":false}},"text":{"field":"t"}}},
{"data":{"name":"notes"},"mark":{"type":"text","align":"center","baseline":"middle","font":"Liberation Sans","fontWeight":"bold","fontSize":15,"color":"#000000"},"encoding":{"x":{"field":"c","type":"quantitative","axis":null,"scale":{"domain":[-1.964,30.673],"nice":false,"zero":false}},"y":{"field":"r","type":"quantitative","axis":null,"scale":{"domain":[84.03,-8.19],"nice":false,"zero":false}},"text":{"field":"t"}}},
{"data":{"name":"top"},"mark":{"type":"rule","strokeWidth":1.2},"encoding":{"x":{"field":"a","type":"quantitative","axis":null,"scale":{"domain":[-1.964,30.673],"nice":false,"zero":false}},"x2":{"field":"b"},"y":{"field":"h","type":"quantitative","axis":null,"scale":{"domain":[-644,67],"nice":false,"zero":false}},"stroke":{"field":"t","type":"nominal","scale":{"domain":["d","l"],"range":["#2b2b80","#9090c4"]},"legend":null}}},
{"data":{"name":"top"},"mark":{"type":"rule","strokeWidth":1.2},"encoding":{"x":{"field":"a","type":"quantitative","axis":null,"scale":{"domain":[-1.964,30.673],"nice":false,"zero":false}},"y":{"field":"h","type":"quantitative","axis":null,"scale":{"domain":[-644,67],"nice":false,"zero":false}},"y2":{"field":"ha"},"stroke":{"field":"t","type":"nominal","scale":{"domain":["d","l"],"range":["#2b2b80","#9090c4"]},"legend":null}}},
{"data":{"name":"top"},"mark":{"type":"rule","strokeWidth":1.2},"encoding":{"x":{"field":"b","type":"quantitative","axis":null,"scale":{"domain":[-1.964,30.673],"nice":false,"zero":false}},"y":{"field":"h","type":"quantitative","axis":null,"scale":{"domain":[-644,67],"nice":false,"zero":false}},"y2":{"field":"hb"},"stroke":{"field":"t","type":"nominal","scale":{"domain":["d","l"],"range":["#2b2b80","#9090c4"]},"legend":null}}},
{"data":{"name":"left"},"mark":{"type":"rule","strokeWidth":1.2},"encoding":{"y":{"field":"a","type":"quantitative","axis":null,"scale":{"domain":[84.03,-8.19],"nice":false,"zero":false}},"y2":{"field":"b"},"x":{"field":"h","type":"quantitative","axis":null,"scale":{"domain":[57,-698],"nice":false,"zero":false}},"stroke":{"field":"t","type":"nominal","scale":{"domain":["d","l"],"range":["#2b2b80","#9090c4"]},"legend":null}}},
{"data":{"name":"left"},"mark":{"type":"rule","strokeWidth":1.2},"encoding":{"y":{"field":"a","type":"quantitative","axis":null,"scale":{"domain":[84.03,-8.19],"nice":false,"zero":false}},"x":{"field":"h","type":"quantitative","axis":null,"scale":{"domain":[57,-698],"nice":false,"zero":false}},"x2":{"field":"ha"},"stroke":{"field":"t","type":"nominal","scale":{"domain":["d","l"],"range":["#2b2b80","#9090c4"]},"legend":null}}},
{"data":{"name":"left"},"mark":{"type":"rule","strokeWidth":1.2},"encoding":{"y":{"field":"b","type":"quantitative","axis":null,"scale":{"domain":[84.03,-8.19],"nice":false,"zero":false}},"x":{"field":"h","type":"quantitative","axis":null,"scale":{"domain":[57,-698],"nice":false,"zero":false}},"x2":{"field":"hb"},"stroke":{"field":"t","type":"nominal","scale":{"domain":["d","l"],"range":["#2b2b80","#9090c4"]},"legend":null}}}
]}
